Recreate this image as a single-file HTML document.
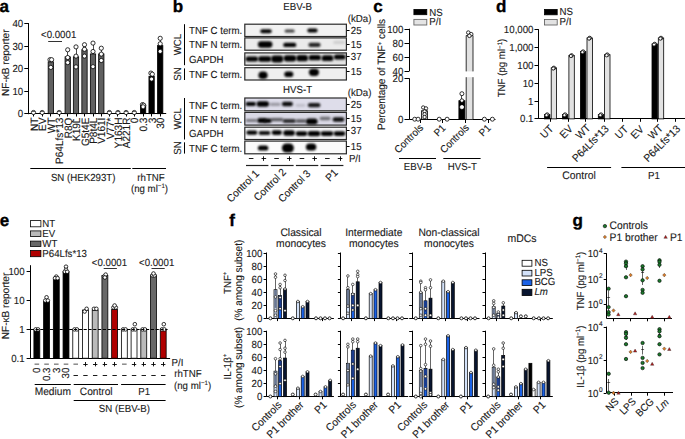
<!DOCTYPE html>
<html><head><meta charset="utf-8"><style>
html,body{margin:0;padding:0;background:#fff;width:685px;height:439px;overflow:hidden}
svg{display:block}
text{font-family:"Liberation Sans",sans-serif;font-size:10.28px;fill:#1a1a1a;text-rendering:geometricPrecision;stroke:#1a1a1a;stroke-width:0.12px}
</style></head><body>
<svg width="685" height="439" viewBox="0 0 685 439">
<defs><filter id="bl" x="-50%" y="-100%" width="200%" height="300%"><feGaussianBlur stdDeviation="0.8"/></filter></defs>
<rect width="685" height="439" fill="#fff"/>
<text transform="translate(-0.60,11.60)" style="font-size:17.00px;font-weight:bold;stroke-width:0.35px;stroke:#000;fill:#000;">a</text>
<line x1="28.50" y1="23.00" x2="28.50" y2="114.20" stroke="#000" stroke-width="1"/>
<line x1="24.30" y1="113.50" x2="28.70" y2="113.50" stroke="#000" stroke-width="1"/>
<text transform="translate(23.20,117.20) scale(0.9434,1)" text-anchor="end">0</text>
<line x1="24.30" y1="91.50" x2="28.70" y2="91.50" stroke="#000" stroke-width="1"/>
<text transform="translate(23.20,94.65) scale(0.9434,1)" text-anchor="end">10</text>
<line x1="24.30" y1="68.50" x2="28.70" y2="68.50" stroke="#000" stroke-width="1"/>
<text transform="translate(23.20,72.10) scale(0.9434,1)" text-anchor="end">20</text>
<line x1="24.30" y1="46.50" x2="28.70" y2="46.50" stroke="#000" stroke-width="1"/>
<text transform="translate(23.20,49.55) scale(0.9434,1)" text-anchor="end">30</text>
<line x1="24.30" y1="23.50" x2="28.70" y2="23.50" stroke="#000" stroke-width="1"/>
<text transform="translate(23.20,27.00) scale(0.9434,1)" text-anchor="end">40</text>
<line x1="28.70" y1="113.50" x2="166.20" y2="113.50" stroke="#000" stroke-width="1"/>
<text transform="translate(9.20,62.70) rotate(-90) scale(0.9434,1)" textLength="70.49" lengthAdjust="spacingAndGlyphs" text-anchor="middle">NF-κB reporter</text>
<line x1="33.50" y1="113.70" x2="33.50" y2="116.50" stroke="#000" stroke-width="1"/>
<circle cx="33.50" cy="112.50" r="2.1" fill="#fff" stroke="#000" stroke-width="0.8"/>
<line x1="32.20" y1="111.50" x2="34.80" y2="111.50" stroke="#000" stroke-width="0.6"/>
<text transform="translate(37.60,117.60) rotate(-90) scale(0.9434,1)" text-anchor="end" style="font-size:10.65px;">NT</text>
<line x1="42.50" y1="113.70" x2="42.50" y2="116.50" stroke="#000" stroke-width="1"/>
<circle cx="42.20" cy="112.50" r="2.1" fill="#fff" stroke="#000" stroke-width="0.8"/>
<line x1="40.90" y1="111.50" x2="43.50" y2="111.50" stroke="#000" stroke-width="0.6"/>
<text transform="translate(46.30,117.60) rotate(-90) scale(0.9434,1)" text-anchor="end" style="font-size:10.65px;">EV</text>
<line x1="50.50" y1="113.70" x2="50.50" y2="116.50" stroke="#000" stroke-width="1"/>
<rect x="48.15" y="61.84" width="5.30" height="51.86" fill="#606060" stroke="#000" stroke-width="0.8"/>
<line x1="50.50" y1="59.70" x2="50.50" y2="61.84" stroke="#000" stroke-width="0.7"/>
<line x1="49.50" y1="59.50" x2="52.10" y2="59.50" stroke="#000" stroke-width="0.7"/>
<circle cx="50.00" cy="59.70" r="2.1" fill="#fff" stroke="#000" stroke-width="0.8"/>
<circle cx="51.60" cy="59.70" r="2.1" fill="#fff" stroke="#000" stroke-width="0.8"/>
<circle cx="50.80" cy="67.40" r="2.1" fill="#fff" stroke="#000" stroke-width="0.8"/>
<text transform="translate(54.90,117.60) rotate(-90) scale(0.9434,1)" text-anchor="end" style="font-size:10.65px;">WT</text>
<line x1="59.50" y1="113.70" x2="59.50" y2="116.50" stroke="#000" stroke-width="1"/>
<circle cx="59.20" cy="112.50" r="2.1" fill="#fff" stroke="#000" stroke-width="0.8"/>
<line x1="57.90" y1="111.50" x2="60.50" y2="111.50" stroke="#000" stroke-width="0.6"/>
<text transform="translate(63.30,117.60) rotate(-90) scale(0.9434,1)" text-anchor="end" style="font-size:10.65px;">P64Lfs*13</text>
<line x1="67.50" y1="113.70" x2="67.50" y2="116.50" stroke="#000" stroke-width="1"/>
<rect x="65.05" y="56.87" width="5.30" height="56.83" fill="#606060" stroke="#000" stroke-width="0.8"/>
<line x1="67.50" y1="49.80" x2="67.50" y2="56.87" stroke="#000" stroke-width="0.7"/>
<line x1="66.40" y1="49.50" x2="69.00" y2="49.50" stroke="#000" stroke-width="0.7"/>
<circle cx="67.70" cy="49.80" r="2.1" fill="#fff" stroke="#000" stroke-width="0.8"/>
<circle cx="67.70" cy="57.50" r="2.1" fill="#fff" stroke="#000" stroke-width="0.8"/>
<circle cx="67.70" cy="62.60" r="2.1" fill="#fff" stroke="#000" stroke-width="0.8"/>
<text transform="translate(71.80,117.60) rotate(-90) scale(0.9434,1)" text-anchor="end" style="font-size:10.65px;">R8Q</text>
<line x1="76.50" y1="113.70" x2="76.50" y2="116.50" stroke="#000" stroke-width="1"/>
<rect x="73.35" y="56.87" width="5.30" height="56.83" fill="#606060" stroke="#000" stroke-width="0.8"/>
<line x1="76.50" y1="46.90" x2="76.50" y2="56.87" stroke="#000" stroke-width="0.7"/>
<line x1="74.70" y1="46.50" x2="77.30" y2="46.50" stroke="#000" stroke-width="0.7"/>
<circle cx="76.00" cy="46.90" r="2.1" fill="#fff" stroke="#000" stroke-width="0.8"/>
<circle cx="76.00" cy="56.10" r="2.1" fill="#fff" stroke="#000" stroke-width="0.8"/>
<circle cx="76.00" cy="66.90" r="2.1" fill="#fff" stroke="#000" stroke-width="0.8"/>
<text transform="translate(80.10,117.60) rotate(-90) scale(0.9434,1)" text-anchor="end" style="font-size:10.65px;">K19L</text>
<line x1="84.50" y1="113.70" x2="84.50" y2="116.50" stroke="#000" stroke-width="1"/>
<rect x="81.85" y="49.66" width="5.30" height="64.04" fill="#606060" stroke="#000" stroke-width="0.8"/>
<line x1="84.50" y1="44.70" x2="84.50" y2="49.66" stroke="#000" stroke-width="0.7"/>
<line x1="83.20" y1="44.50" x2="85.80" y2="44.50" stroke="#000" stroke-width="0.7"/>
<circle cx="84.50" cy="44.70" r="2.1" fill="#fff" stroke="#000" stroke-width="0.8"/>
<circle cx="84.50" cy="49.30" r="2.1" fill="#fff" stroke="#000" stroke-width="0.8"/>
<circle cx="84.50" cy="56.10" r="2.1" fill="#fff" stroke="#000" stroke-width="0.8"/>
<text transform="translate(88.60,117.60) rotate(-90) scale(0.9434,1)" text-anchor="end" style="font-size:10.65px;">G5t4E</text>
<line x1="93.50" y1="113.70" x2="93.50" y2="116.50" stroke="#000" stroke-width="1"/>
<rect x="90.35" y="53.94" width="5.30" height="59.76" fill="#606060" stroke="#000" stroke-width="0.8"/>
<line x1="93.50" y1="43.10" x2="93.50" y2="53.94" stroke="#000" stroke-width="0.7"/>
<line x1="91.70" y1="43.50" x2="94.30" y2="43.50" stroke="#000" stroke-width="0.7"/>
<circle cx="93.00" cy="43.10" r="2.1" fill="#fff" stroke="#000" stroke-width="0.8"/>
<circle cx="93.00" cy="51.50" r="2.1" fill="#fff" stroke="#000" stroke-width="0.8"/>
<circle cx="93.00" cy="66.70" r="2.1" fill="#fff" stroke="#000" stroke-width="0.8"/>
<text transform="translate(97.10,117.60) rotate(-90) scale(0.9434,1)" text-anchor="end" style="font-size:10.65px;">P8t4L</text>
<line x1="101.50" y1="113.70" x2="101.50" y2="116.50" stroke="#000" stroke-width="1"/>
<rect x="98.65" y="53.94" width="5.30" height="59.76" fill="#606060" stroke="#000" stroke-width="0.8"/>
<line x1="101.50" y1="48.20" x2="101.50" y2="53.94" stroke="#000" stroke-width="0.7"/>
<line x1="100.00" y1="48.50" x2="102.60" y2="48.50" stroke="#000" stroke-width="0.7"/>
<circle cx="101.30" cy="48.20" r="2.1" fill="#fff" stroke="#000" stroke-width="0.8"/>
<circle cx="101.30" cy="54.10" r="2.1" fill="#fff" stroke="#000" stroke-width="0.8"/>
<circle cx="101.30" cy="60.50" r="2.1" fill="#fff" stroke="#000" stroke-width="0.8"/>
<text transform="translate(105.40,117.60) rotate(-90) scale(0.9434,1)" text-anchor="end" style="font-size:10.65px;">V161I</text>
<line x1="109.50" y1="113.70" x2="109.50" y2="116.50" stroke="#000" stroke-width="1"/>
<circle cx="109.40" cy="112.50" r="2.1" fill="#fff" stroke="#000" stroke-width="0.8"/>
<line x1="108.10" y1="111.50" x2="110.70" y2="111.50" stroke="#000" stroke-width="0.6"/>
<text transform="translate(113.50,117.60) rotate(-90) scale(0.9434,1)" text-anchor="end" style="font-size:10.65px;">V77*</text>
<line x1="117.50" y1="113.70" x2="117.50" y2="116.50" stroke="#000" stroke-width="1"/>
<circle cx="117.90" cy="112.50" r="2.1" fill="#fff" stroke="#000" stroke-width="0.8"/>
<line x1="116.60" y1="111.50" x2="119.20" y2="111.50" stroke="#000" stroke-width="0.6"/>
<text transform="translate(122.00,117.60) rotate(-90) scale(0.9434,1)" text-anchor="end" style="font-size:10.65px;">Y163H</text>
<line x1="126.50" y1="113.70" x2="126.50" y2="116.50" stroke="#000" stroke-width="1"/>
<circle cx="126.10" cy="112.50" r="2.1" fill="#fff" stroke="#000" stroke-width="0.8"/>
<line x1="124.80" y1="111.50" x2="127.40" y2="111.50" stroke="#000" stroke-width="0.6"/>
<text transform="translate(130.20,117.60) rotate(-90) scale(0.9434,1)" text-anchor="end" style="font-size:10.65px;">A221R</text>
<line x1="134.50" y1="113.70" x2="134.50" y2="116.50" stroke="#000" stroke-width="1"/>
<circle cx="134.30" cy="112.50" r="2.1" fill="#fff" stroke="#000" stroke-width="0.8"/>
<line x1="133.00" y1="111.50" x2="135.60" y2="111.50" stroke="#000" stroke-width="0.6"/>
<text transform="translate(138.40,117.60) rotate(-90) scale(0.9434,1)" text-anchor="end" style="font-size:10.65px;">0</text>
<line x1="143.50" y1="113.70" x2="143.50" y2="116.50" stroke="#000" stroke-width="1"/>
<rect x="140.45" y="105.36" width="5.30" height="8.34" fill="#000" stroke="#000" stroke-width="0.8"/>
<line x1="143.50" y1="104.60" x2="143.50" y2="105.36" stroke="#000" stroke-width="0.7"/>
<line x1="141.80" y1="104.50" x2="144.40" y2="104.50" stroke="#000" stroke-width="0.7"/>
<circle cx="142.50" cy="104.60" r="2.1" fill="#fff" stroke="#000" stroke-width="0.8"/>
<circle cx="143.70" cy="105.20" r="2.1" fill="#fff" stroke="#000" stroke-width="0.8"/>
<circle cx="143.10" cy="106.80" r="2.1" fill="#fff" stroke="#000" stroke-width="0.8"/>
<text transform="translate(147.20,117.60) rotate(-90) scale(0.9434,1)" text-anchor="end" style="font-size:10.65px;">0.3</text>
<line x1="151.50" y1="113.70" x2="151.50" y2="116.50" stroke="#000" stroke-width="1"/>
<rect x="148.95" y="76.27" width="5.30" height="37.43" fill="#000" stroke="#000" stroke-width="0.8"/>
<line x1="151.50" y1="73.10" x2="151.50" y2="76.27" stroke="#000" stroke-width="0.7"/>
<line x1="150.30" y1="73.50" x2="152.90" y2="73.50" stroke="#000" stroke-width="0.7"/>
<circle cx="150.90" cy="73.10" r="2.1" fill="#fff" stroke="#000" stroke-width="0.8"/>
<circle cx="152.30" cy="74.20" r="2.1" fill="#fff" stroke="#000" stroke-width="0.8"/>
<circle cx="151.60" cy="79.10" r="2.1" fill="#fff" stroke="#000" stroke-width="0.8"/>
<text transform="translate(155.70,117.60) rotate(-90) scale(0.9434,1)" text-anchor="end" style="font-size:10.65px;">3</text>
<line x1="160.50" y1="113.70" x2="160.50" y2="116.50" stroke="#000" stroke-width="1"/>
<rect x="157.55" y="45.60" width="5.30" height="68.10" fill="#000" stroke="#000" stroke-width="0.8"/>
<line x1="160.50" y1="38.30" x2="160.50" y2="45.60" stroke="#000" stroke-width="0.7"/>
<line x1="158.90" y1="38.50" x2="161.50" y2="38.50" stroke="#000" stroke-width="0.7"/>
<circle cx="160.20" cy="38.30" r="2.1" fill="#fff" stroke="#000" stroke-width="0.8"/>
<circle cx="160.20" cy="43.80" r="2.1" fill="#fff" stroke="#000" stroke-width="0.8"/>
<circle cx="160.20" cy="51.40" r="2.1" fill="#fff" stroke="#000" stroke-width="0.8"/>
<text transform="translate(164.30,117.60) rotate(-90) scale(0.9434,1)" text-anchor="end" style="font-size:10.65px;">30</text>
<text transform="translate(41.00,38.30) scale(0.9434,1)">&lt;0.0001</text>
<line x1="48.20" y1="41.50" x2="62.00" y2="41.50" stroke="#333" stroke-width="1.0"/>
<line x1="30.30" y1="168.50" x2="130.80" y2="168.50" stroke="#000" stroke-width="1"/>
<line x1="132.30" y1="168.50" x2="166.00" y2="168.50" stroke="#000" stroke-width="1"/>
<text transform="translate(83.20,180.70) scale(0.9434,1)" text-anchor="middle">SN (HEK293T)</text>
<text transform="translate(151.00,180.70) scale(0.9434,1)" text-anchor="middle">rhTNF</text>
<text transform="translate(149.50,191.90) scale(0.9434,1)" text-anchor="middle">(ng ml<tspan dy="-3.5" style="font-size:6.5px">−1</tspan><tspan dy="3.5">)</tspan></text>
<text transform="translate(172.70,11.60)" style="font-size:17.00px;font-weight:bold;stroke-width:0.35px;stroke:#000;fill:#000;">b</text>
<text transform="translate(297.60,10.30) scale(0.9434,1)" text-anchor="middle">EBV-B</text>
<text transform="translate(347.80,21.60) scale(0.9434,1)">(kDa)</text>
<rect x="244.80" y="24.20" width="101.60" height="12.30" fill="#f2f2f2" stroke="#2a2a2a" stroke-width="1.2"/>
<rect x="260.30" y="29.30" width="11.40" height="4.00" rx="2.00" fill="#000" fill-opacity="1" filter="url(#bl)"/>
<rect x="284.60" y="29.40" width="10.10" height="3.00" rx="1.50" fill="#000" fill-opacity="0.75" filter="url(#bl)"/>
<rect x="307.30" y="28.60" width="10.30" height="3.80" rx="1.90" fill="#000" fill-opacity="1" filter="url(#bl)"/>
<text transform="translate(189.00,34.40) scale(0.9434,1)">TNF C term.</text>
<line x1="346.90" y1="30.50" x2="349.60" y2="30.50" stroke="#000" stroke-width="1"/>
<text transform="translate(350.80,33.85) scale(0.9434,1)">25</text>
<rect x="244.80" y="37.90" width="101.60" height="12.30" fill="#ebebeb" stroke="#2a2a2a" stroke-width="1.2"/>
<rect x="257.90" y="41.35" width="14.50" height="6.30" rx="3.15" fill="#000" fill-opacity="1" filter="url(#bl)"/>
<rect x="283.20" y="42.70" width="13.10" height="4.40" rx="2.20" fill="#000" fill-opacity="1" filter="url(#bl)"/>
<rect x="308.40" y="42.75" width="12.20" height="4.30" rx="2.15" fill="#000" fill-opacity="0.85" filter="url(#bl)"/>
<rect x="333.20" y="40.80" width="11.70" height="3.20" rx="1.60" fill="#000" fill-opacity="0.12" filter="url(#bl)"/>
<text transform="translate(189.00,48.10) scale(0.9434,1)">TNF N term.</text>
<line x1="346.90" y1="44.50" x2="349.60" y2="44.50" stroke="#000" stroke-width="1"/>
<text transform="translate(350.80,47.55) scale(0.9434,1)">15</text>
<rect x="244.80" y="52.90" width="101.60" height="12.30" fill="#e2e2e2" stroke="#2a2a2a" stroke-width="1.2"/>
<rect x="245.60" y="56.40" width="12.50" height="5.00" rx="2.50" fill="#000" fill-opacity="1" filter="url(#bl)"/>
<rect x="258.10" y="56.20" width="13.30" height="5.60" rx="2.80" fill="#000" fill-opacity="1" filter="url(#bl)"/>
<rect x="271.10" y="55.60" width="12.30" height="6.80" rx="3.40" fill="#000" fill-opacity="1" filter="url(#bl)"/>
<rect x="283.60" y="55.20" width="12.80" height="6.20" rx="3.10" fill="#000" fill-opacity="1" filter="url(#bl)"/>
<rect x="296.30" y="55.10" width="11.80" height="6.20" rx="3.10" fill="#000" fill-opacity="1" filter="url(#bl)"/>
<rect x="308.60" y="55.10" width="12.40" height="5.20" rx="2.60" fill="#000" fill-opacity="1" filter="url(#bl)"/>
<rect x="321.60" y="55.30" width="11.80" height="5.80" rx="2.90" fill="#000" fill-opacity="1" filter="url(#bl)"/>
<rect x="333.90" y="54.40" width="11.70" height="5.00" rx="2.50" fill="#000" fill-opacity="1" filter="url(#bl)"/>
<text transform="translate(189.00,63.10) scale(0.9434,1)">GAPDH</text>
<line x1="346.90" y1="56.50" x2="349.60" y2="56.50" stroke="#000" stroke-width="1"/>
<text transform="translate(350.80,60.05) scale(0.9434,1)">37</text>
<rect x="244.80" y="67.70" width="101.60" height="12.30" fill="#efefef" stroke="#2a2a2a" stroke-width="1.2"/>
<rect x="258.40" y="71.50" width="9.20" height="7.60" rx="3.80" fill="#000" fill-opacity="1" filter="url(#bl)"/>
<rect x="284.30" y="71.50" width="9.00" height="5.60" rx="2.80" fill="#000" fill-opacity="1" filter="url(#bl)"/>
<rect x="308.90" y="68.65" width="10.10" height="7.30" rx="3.65" fill="#000" fill-opacity="1" filter="url(#bl)"/>
<text transform="translate(189.00,77.90) scale(0.9434,1)">TNF C term.</text>
<line x1="346.90" y1="71.50" x2="349.60" y2="71.50" stroke="#000" stroke-width="1"/>
<text transform="translate(350.80,75.35) scale(0.9434,1)">15</text>
<text transform="translate(297.60,93.30) scale(0.9434,1)" text-anchor="middle">HVS-T</text>
<text transform="translate(347.80,96.00) scale(0.9434,1)">(kDa)</text>
<rect x="244.80" y="98.00" width="101.60" height="12.80" fill="#deddea" stroke="#2a2a2a" stroke-width="1.2"/>
<rect x="245.60" y="102.10" width="10.40" height="3.80" rx="1.90" fill="#000" fill-opacity="1" filter="url(#bl)"/>
<rect x="256.60" y="101.30" width="12.40" height="5.40" rx="2.70" fill="#000" fill-opacity="1" filter="url(#bl)"/>
<rect x="269.60" y="102.70" width="11.00" height="3.20" rx="1.60" fill="#000" fill-opacity="0.3" filter="url(#bl)"/>
<rect x="281.90" y="101.80" width="11.00" height="4.40" rx="2.20" fill="#000" fill-opacity="0.95" filter="url(#bl)"/>
<rect x="295.60" y="103.90" width="9.80" height="2.80" rx="1.40" fill="#000" fill-opacity="0.15" filter="url(#bl)"/>
<rect x="307.90" y="103.05" width="12.50" height="4.30" rx="2.15" fill="#000" fill-opacity="0.9" filter="url(#bl)"/>
<text transform="translate(189.00,108.70) scale(0.9434,1)">TNF C term.</text>
<line x1="346.90" y1="104.50" x2="349.60" y2="104.50" stroke="#000" stroke-width="1"/>
<text transform="translate(350.80,107.90) scale(0.9434,1)">25</text>
<rect x="244.80" y="112.40" width="101.60" height="12.70" fill="#dad9e6" stroke="#2a2a2a" stroke-width="1.2"/>
<rect x="245.60" y="119.10" width="11.80" height="3.00" rx="1.50" fill="#000" fill-opacity="0.45" filter="url(#bl)"/>
<rect x="257.30" y="118.00" width="9.10" height="5.00" rx="2.50" fill="#000" fill-opacity="1" filter="url(#bl)"/>
<rect x="263.60" y="118.60" width="8.10" height="4.40" rx="2.20" fill="#000" fill-opacity="1" filter="url(#bl)"/>
<rect x="270.60" y="117.90" width="12.80" height="3.40" rx="1.70" fill="#000" fill-opacity="0.6" filter="url(#bl)"/>
<rect x="282.60" y="119.00" width="13.30" height="4.00" rx="2.00" fill="#000" fill-opacity="0.8" filter="url(#bl)"/>
<rect x="295.60" y="119.30" width="10.80" height="3.40" rx="1.70" fill="#000" fill-opacity="0.6" filter="url(#bl)"/>
<rect x="305.90" y="118.50" width="11.70" height="6.00" rx="3.00" fill="#000" fill-opacity="1" filter="url(#bl)"/>
<rect x="319.60" y="116.70" width="11.00" height="3.60" rx="1.80" fill="#000" fill-opacity="0.5" filter="url(#bl)"/>
<rect x="332.60" y="117.20" width="11.70" height="4.60" rx="2.30" fill="#000" fill-opacity="0.95" filter="url(#bl)"/>
<text transform="translate(189.00,123.00) scale(0.9434,1)">TNF N term.</text>
<line x1="346.90" y1="118.50" x2="349.60" y2="118.50" stroke="#000" stroke-width="1"/>
<text transform="translate(350.80,122.25) scale(0.9434,1)">15</text>
<rect x="244.80" y="127.20" width="101.60" height="12.30" fill="#f6f6f8" stroke="#2a2a2a" stroke-width="1.2"/>
<rect x="246.30" y="130.40" width="11.10" height="4.40" rx="2.20" fill="#000" fill-opacity="1" filter="url(#bl)"/>
<rect x="258.60" y="131.10" width="11.80" height="3.80" rx="1.90" fill="#000" fill-opacity="0.95" filter="url(#bl)"/>
<rect x="271.60" y="130.20" width="10.40" height="4.80" rx="2.40" fill="#000" fill-opacity="1" filter="url(#bl)"/>
<rect x="283.20" y="130.35" width="11.70" height="5.30" rx="2.65" fill="#000" fill-opacity="1" filter="url(#bl)"/>
<rect x="295.60" y="131.20" width="11.80" height="4.80" rx="2.40" fill="#000" fill-opacity="1" filter="url(#bl)"/>
<rect x="307.60" y="130.95" width="12.80" height="5.30" rx="2.65" fill="#000" fill-opacity="1" filter="url(#bl)"/>
<rect x="320.60" y="131.20" width="12.80" height="4.80" rx="2.40" fill="#000" fill-opacity="1" filter="url(#bl)"/>
<rect x="333.60" y="131.20" width="11.80" height="4.80" rx="2.40" fill="#000" fill-opacity="1" filter="url(#bl)"/>
<text transform="translate(189.00,137.40) scale(0.9434,1)">GAPDH</text>
<line x1="346.90" y1="130.50" x2="349.60" y2="130.50" stroke="#000" stroke-width="1"/>
<text transform="translate(350.80,134.45) scale(0.9434,1)">37</text>
<rect x="244.80" y="141.10" width="101.60" height="12.70" fill="#fbfbfb" stroke="#2a2a2a" stroke-width="1.2"/>
<rect x="257.90" y="145.40" width="10.40" height="5.20" rx="2.60" fill="#000" fill-opacity="1" filter="url(#bl)"/>
<rect x="281.90" y="143.40" width="12.00" height="9.20" rx="4.50" fill="#000" fill-opacity="1" filter="url(#bl)"/>
<rect x="305.90" y="143.40" width="10.40" height="7.20" rx="3.60" fill="#000" fill-opacity="1" filter="url(#bl)"/>
<text transform="translate(189.00,151.70) scale(0.9434,1)">TNF C term.</text>
<line x1="346.90" y1="146.50" x2="349.60" y2="146.50" stroke="#000" stroke-width="1"/>
<text transform="translate(350.80,150.15) scale(0.9434,1)">15</text>
<line x1="184.50" y1="24.20" x2="184.50" y2="65.20" stroke="#000" stroke-width="1"/>
<line x1="184.50" y1="68.40" x2="184.50" y2="80.00" stroke="#000" stroke-width="1"/>
<line x1="184.50" y1="98.00" x2="184.50" y2="139.50" stroke="#000" stroke-width="1"/>
<line x1="184.50" y1="142.30" x2="184.50" y2="153.60" stroke="#000" stroke-width="1"/>
<text transform="translate(181.30,44.60) rotate(-90) scale(0.9434,1)" text-anchor="middle">WCL</text>
<text transform="translate(181.30,74.00) rotate(-90) scale(0.9434,1)" text-anchor="middle">SN</text>
<text transform="translate(181.30,118.80) rotate(-90) scale(0.9434,1)" text-anchor="middle">WCL</text>
<text transform="translate(181.30,148.00) rotate(-90) scale(0.9434,1)" text-anchor="middle">SN</text>
<line x1="248.85" y1="158.50" x2="253.45" y2="158.50" stroke="#000" stroke-width="0.9"/>
<line x1="261.55" y1="158.50" x2="266.15" y2="158.50" stroke="#000" stroke-width="0.9"/>
<line x1="263.50" y1="156.30" x2="263.50" y2="160.90" stroke="#000" stroke-width="0.9"/>
<line x1="274.25" y1="158.50" x2="278.85" y2="158.50" stroke="#000" stroke-width="0.9"/>
<line x1="286.95" y1="158.50" x2="291.55" y2="158.50" stroke="#000" stroke-width="0.9"/>
<line x1="289.50" y1="156.30" x2="289.50" y2="160.90" stroke="#000" stroke-width="0.9"/>
<line x1="299.65" y1="158.50" x2="304.25" y2="158.50" stroke="#000" stroke-width="0.9"/>
<line x1="312.35" y1="158.50" x2="316.95" y2="158.50" stroke="#000" stroke-width="0.9"/>
<line x1="314.50" y1="156.30" x2="314.50" y2="160.90" stroke="#000" stroke-width="0.9"/>
<line x1="325.05" y1="158.50" x2="329.65" y2="158.50" stroke="#000" stroke-width="0.9"/>
<line x1="337.75" y1="158.50" x2="342.35" y2="158.50" stroke="#000" stroke-width="0.9"/>
<line x1="340.50" y1="156.30" x2="340.50" y2="160.90" stroke="#000" stroke-width="0.9"/>
<text transform="translate(348.90,162.10) scale(0.9434,1)">P/I</text>
<line x1="246.00" y1="165.50" x2="268.40" y2="165.50" stroke="#222" stroke-width="1.2"/>
<line x1="270.90" y1="165.50" x2="293.60" y2="165.50" stroke="#222" stroke-width="1.2"/>
<line x1="295.90" y1="165.50" x2="318.30" y2="165.50" stroke="#222" stroke-width="1.2"/>
<line x1="320.60" y1="165.50" x2="343.40" y2="165.50" stroke="#222" stroke-width="1.2"/>
<text transform="translate(259.70,174.20) rotate(-45) scale(0.9434,1)" text-anchor="end" style="font-size:10.60px;">Control 1</text>
<text transform="translate(286.80,172.80) rotate(-45) scale(0.9434,1)" text-anchor="end" style="font-size:10.60px;">Control 2</text>
<text transform="translate(311.10,174.20) rotate(-45) scale(0.9434,1)" text-anchor="end" style="font-size:10.60px;">Control 3</text>
<text transform="translate(338.50,173.30) rotate(-45) scale(0.9434,1)" text-anchor="end" style="font-size:10.60px;">P1</text>
<text transform="translate(373.20,11.60)" style="font-size:17.00px;font-weight:bold;stroke-width:0.35px;stroke:#000;fill:#000;">c</text>
<rect x="413.90" y="9.40" width="12.90" height="5.30" fill="#000" stroke="#000" stroke-width="0.8"/>
<text transform="translate(429.30,15.50) scale(0.9434,1)">NS</text>
<rect x="413.90" y="19.40" width="12.90" height="5.60" fill="#e4e4e4" stroke="#666" stroke-width="0.9"/>
<text transform="translate(429.30,25.30) scale(0.9434,1)">P/I</text>
<line x1="409.50" y1="28.70" x2="409.50" y2="71.30" stroke="#000" stroke-width="1"/>
<line x1="409.50" y1="78.20" x2="409.50" y2="119.20" stroke="#000" stroke-width="1"/>
<line x1="404.50" y1="29.50" x2="409.20" y2="29.50" stroke="#000" stroke-width="1"/>
<text transform="translate(403.30,32.70) scale(0.9434,1)" text-anchor="end">100</text>
<line x1="404.50" y1="43.50" x2="409.20" y2="43.50" stroke="#000" stroke-width="1"/>
<text transform="translate(403.30,46.73) scale(0.9434,1)" text-anchor="end">80</text>
<line x1="404.50" y1="57.50" x2="409.20" y2="57.50" stroke="#000" stroke-width="1"/>
<text transform="translate(403.30,60.77) scale(0.9434,1)" text-anchor="end">60</text>
<line x1="404.50" y1="71.50" x2="409.20" y2="71.50" stroke="#000" stroke-width="1"/>
<text transform="translate(403.30,74.80) scale(0.9434,1)" text-anchor="end">40</text>
<line x1="404.50" y1="78.50" x2="409.20" y2="78.50" stroke="#000" stroke-width="1"/>
<text transform="translate(403.30,81.70) scale(0.9434,1)" text-anchor="end">20</text>
<line x1="404.50" y1="119.50" x2="409.20" y2="119.50" stroke="#000" stroke-width="1"/>
<text transform="translate(403.30,122.70) scale(0.9434,1)" text-anchor="end">0</text>
<line x1="409.20" y1="119.50" x2="495.50" y2="119.50" stroke="#000" stroke-width="1"/>
<line x1="420.50" y1="119.20" x2="420.50" y2="123.00" stroke="#000" stroke-width="1"/>
<line x1="442.50" y1="119.20" x2="442.50" y2="123.00" stroke="#000" stroke-width="1"/>
<line x1="465.50" y1="119.20" x2="465.50" y2="123.00" stroke="#000" stroke-width="1"/>
<line x1="488.50" y1="119.20" x2="488.50" y2="123.00" stroke="#000" stroke-width="1"/>
<text transform="translate(385.20,74.40) rotate(-90) scale(0.9434,1)" text-anchor="middle" style="font-size:10.65px;">Percentage of TNF<tspan dy="-3.5" style="font-size:6.5px">+</tspan><tspan dy="3.5"> cells</tspan></text>
<circle cx="414.70" cy="119.20" r="2.0" fill="#fff" stroke="#000" stroke-width="0.8"/>
<circle cx="418.10" cy="119.20" r="2.0" fill="#fff" stroke="#000" stroke-width="0.8"/>
<rect x="421.50" y="110.80" width="6.00" height="8.40" fill="#e2e2e2" stroke="#000" stroke-width="0.8"/>
<line x1="424.50" y1="107.50" x2="424.50" y2="110.80" stroke="#000" stroke-width="0.7"/>
<circle cx="423.20" cy="107.50" r="1.7" fill="#fff" stroke="#000" stroke-width="0.8"/>
<circle cx="426.00" cy="108.40" r="1.7" fill="#fff" stroke="#000" stroke-width="0.8"/>
<circle cx="424.60" cy="111.40" r="1.7" fill="#fff" stroke="#000" stroke-width="0.8"/>
<circle cx="424.60" cy="114.20" r="1.7" fill="#fff" stroke="#000" stroke-width="0.8"/>
<circle cx="424.60" cy="117.00" r="1.7" fill="#fff" stroke="#000" stroke-width="0.8"/>
<circle cx="439.20" cy="119.20" r="2.0" fill="#fff" stroke="#000" stroke-width="0.8"/>
<circle cx="447.10" cy="119.20" r="2.0" fill="#fff" stroke="#000" stroke-width="0.8"/>
<rect x="458.90" y="100.70" width="6.00" height="18.50" fill="#000" stroke="#000" stroke-width="0.8"/>
<rect x="466.20" y="35.50" width="6.80" height="35.90" fill="#e2e2e2"/>
<rect x="466.20" y="77.20" width="6.80" height="42.00" fill="#e2e2e2"/>
<path d="M466.2,71.4 V35.5 H473.0 V71.4 M466.2,77.2 V119.2 M473.0,77.2 V119.2" fill="none" stroke="#000" stroke-width="0.8"/>
<line x1="461.50" y1="93.70" x2="461.50" y2="100.70" stroke="#000" stroke-width="0.7"/>
<circle cx="461.90" cy="93.70" r="2.0" fill="#fff" stroke="#000" stroke-width="0.8"/>
<circle cx="461.90" cy="100.60" r="1.8" fill="#fff" stroke="#000" stroke-width="0.8"/>
<circle cx="461.90" cy="107.10" r="1.7" fill="#fff" stroke="#fff" stroke-width="0.8"/>
<circle cx="468.30" cy="32.60" r="1.8" fill="#fff" stroke="#000" stroke-width="0.8"/>
<circle cx="471.20" cy="34.20" r="1.8" fill="#fff" stroke="#000" stroke-width="0.8"/>
<circle cx="469.40" cy="35.80" r="1.8" fill="#fff" stroke="#000" stroke-width="0.8"/>
<circle cx="484.40" cy="119.20" r="2.0" fill="#fff" stroke="#000" stroke-width="0.8"/>
<circle cx="492.40" cy="119.20" r="2.0" fill="#fff" stroke="#000" stroke-width="0.8"/>
<text transform="translate(424.00,128.20) rotate(-45) scale(0.9434,1)" text-anchor="end">Controls</text>
<text transform="translate(446.40,128.60) rotate(-45) scale(0.9434,1)" text-anchor="end">P1</text>
<text transform="translate(469.70,128.20) rotate(-45) scale(0.9434,1)" text-anchor="end">Controls</text>
<text transform="translate(491.50,128.60) rotate(-45) scale(0.9434,1)" text-anchor="end">P1</text>
<line x1="399.00" y1="158.50" x2="436.00" y2="158.50" stroke="#000" stroke-width="1"/>
<line x1="443.30" y1="158.50" x2="480.60" y2="158.50" stroke="#000" stroke-width="1"/>
<text transform="translate(418.00,170.10) scale(0.9434,1)" text-anchor="middle">EBV-B</text>
<text transform="translate(462.30,170.10) scale(0.9434,1)" text-anchor="middle">HVS-T</text>
<text transform="translate(495.90,11.60)" style="font-size:17.00px;font-weight:bold;stroke-width:0.35px;stroke:#000;fill:#000;">d</text>
<rect x="544.50" y="9.40" width="12.70" height="5.40" fill="#000" stroke="#000" stroke-width="0.8"/>
<text transform="translate(559.60,15.40) scale(0.9434,1)">NS</text>
<rect x="544.50" y="19.40" width="12.70" height="5.60" fill="#e2e2e2" stroke="#555" stroke-width="0.8"/>
<text transform="translate(559.60,25.40) scale(0.9434,1)">P/I</text>
<line x1="538.50" y1="29.20" x2="538.50" y2="118.90" stroke="#000" stroke-width="1"/>
<line x1="534.50" y1="29.50" x2="538.70" y2="29.50" stroke="#000" stroke-width="1"/>
<text transform="translate(533.50,33.20) scale(0.9434,1)" text-anchor="end">10,000</text>
<line x1="534.50" y1="47.50" x2="538.70" y2="47.50" stroke="#000" stroke-width="1"/>
<text transform="translate(533.50,51.04) scale(0.9434,1)" text-anchor="end">1,000</text>
<line x1="534.50" y1="65.50" x2="538.70" y2="65.50" stroke="#000" stroke-width="1"/>
<text transform="translate(533.50,68.88) scale(0.9434,1)" text-anchor="end">100</text>
<line x1="534.50" y1="83.50" x2="538.70" y2="83.50" stroke="#000" stroke-width="1"/>
<text transform="translate(533.50,86.72) scale(0.9434,1)" text-anchor="end">10</text>
<line x1="534.50" y1="101.50" x2="538.70" y2="101.50" stroke="#000" stroke-width="1"/>
<text transform="translate(533.50,104.56) scale(0.9434,1)" text-anchor="end">1</text>
<line x1="534.50" y1="118.50" x2="538.70" y2="118.50" stroke="#000" stroke-width="1"/>
<text transform="translate(533.50,122.40) scale(0.9434,1)" text-anchor="end">0.1</text>
<line x1="538.70" y1="118.50" x2="685.50" y2="118.50" stroke="#000" stroke-width="1"/>
<text transform="translate(505.00,68.00) rotate(-90) scale(0.9434,1)" text-anchor="middle">TNF (pg ml<tspan dy="-3.5" style="font-size:6.5px">−1</tspan><tspan dy="3.5">)</tspan></text>
<line x1="550.50" y1="118.90" x2="550.50" y2="121.80" stroke="#000" stroke-width="1"/>
<line x1="568.50" y1="118.90" x2="568.50" y2="121.80" stroke="#000" stroke-width="1"/>
<line x1="585.50" y1="118.90" x2="585.50" y2="121.80" stroke="#000" stroke-width="1"/>
<line x1="604.50" y1="118.90" x2="604.50" y2="121.80" stroke="#000" stroke-width="1"/>
<line x1="622.50" y1="118.90" x2="622.50" y2="121.80" stroke="#000" stroke-width="1"/>
<line x1="640.50" y1="118.90" x2="640.50" y2="121.80" stroke="#000" stroke-width="1"/>
<line x1="657.50" y1="118.90" x2="657.50" y2="121.80" stroke="#000" stroke-width="1"/>
<line x1="675.50" y1="118.90" x2="675.50" y2="121.80" stroke="#000" stroke-width="1"/>
<rect x="544.50" y="114.60" width="5.40" height="4.30" fill="#000" stroke="#000" stroke-width="0.8"/>
<circle cx="547.20" cy="114.60" r="1.8" fill="#fff" stroke="#000" stroke-width="0.8"/>
<circle cx="546.50" cy="115.20" r="1.6" fill="#fff" stroke="#000" stroke-width="0.8"/>
<rect x="562.40" y="114.60" width="5.40" height="4.30" fill="#000" stroke="#000" stroke-width="0.8"/>
<circle cx="565.10" cy="114.60" r="1.8" fill="#fff" stroke="#000" stroke-width="0.8"/>
<circle cx="564.40" cy="115.20" r="1.6" fill="#fff" stroke="#000" stroke-width="0.8"/>
<rect x="580.40" y="51.60" width="5.40" height="67.30" fill="#000" stroke="#000" stroke-width="0.8"/>
<circle cx="583.10" cy="51.60" r="1.8" fill="#fff" stroke="#000" stroke-width="0.8"/>
<circle cx="582.40" cy="52.20" r="1.6" fill="#fff" stroke="#000" stroke-width="0.8"/>
<rect x="598.30" y="114.60" width="5.40" height="4.30" fill="#000" stroke="#000" stroke-width="0.8"/>
<circle cx="601.00" cy="114.60" r="1.8" fill="#fff" stroke="#000" stroke-width="0.8"/>
<circle cx="600.30" cy="115.20" r="1.6" fill="#fff" stroke="#000" stroke-width="0.8"/>
<rect x="652.00" y="44.00" width="5.40" height="74.90" fill="#000" stroke="#000" stroke-width="0.8"/>
<circle cx="654.70" cy="44.00" r="1.8" fill="#fff" stroke="#000" stroke-width="0.8"/>
<circle cx="654.00" cy="44.60" r="1.6" fill="#fff" stroke="#000" stroke-width="0.8"/>
<rect x="551.20" y="67.90" width="5.40" height="51.00" fill="#e2e2e2" stroke="#000" stroke-width="0.8"/>
<circle cx="553.90" cy="67.90" r="1.8" fill="#fff" stroke="#000" stroke-width="0.8"/>
<circle cx="553.20" cy="68.50" r="1.6" fill="#fff" stroke="#000" stroke-width="0.8"/>
<rect x="568.90" y="55.40" width="5.40" height="63.50" fill="#e2e2e2" stroke="#000" stroke-width="0.8"/>
<circle cx="571.60" cy="55.40" r="1.8" fill="#fff" stroke="#000" stroke-width="0.8"/>
<circle cx="570.90" cy="56.00" r="1.6" fill="#fff" stroke="#000" stroke-width="0.8"/>
<rect x="587.00" y="38.00" width="5.40" height="80.90" fill="#e2e2e2" stroke="#000" stroke-width="0.8"/>
<circle cx="589.70" cy="38.00" r="1.8" fill="#fff" stroke="#000" stroke-width="0.8"/>
<circle cx="589.00" cy="38.60" r="1.6" fill="#fff" stroke="#000" stroke-width="0.8"/>
<rect x="604.60" y="54.70" width="5.40" height="64.20" fill="#e2e2e2" stroke="#000" stroke-width="0.8"/>
<circle cx="607.30" cy="54.70" r="1.8" fill="#fff" stroke="#000" stroke-width="0.8"/>
<circle cx="606.60" cy="55.30" r="1.6" fill="#fff" stroke="#000" stroke-width="0.8"/>
<rect x="658.30" y="38.00" width="5.40" height="80.90" fill="#e2e2e2" stroke="#000" stroke-width="0.8"/>
<circle cx="661.00" cy="38.00" r="1.8" fill="#fff" stroke="#000" stroke-width="0.8"/>
<circle cx="660.30" cy="38.60" r="1.6" fill="#fff" stroke="#000" stroke-width="0.8"/>
<text transform="translate(554.10,129.50) rotate(-45) scale(0.9434,1)" text-anchor="end" style="font-size:10.71px;">UT</text>
<text transform="translate(573.60,129.50) rotate(-45) scale(0.9434,1)" text-anchor="end" style="font-size:10.71px;">EV</text>
<text transform="translate(591.00,128.70) rotate(-45) scale(0.9434,1)" text-anchor="end" style="font-size:10.71px;">WT</text>
<text transform="translate(609.40,129.50) rotate(-45) scale(0.9434,1)" text-anchor="end" style="font-size:10.71px;">P64Lfs*13</text>
<text transform="translate(628.80,130.00) rotate(-45) scale(0.9434,1)" text-anchor="end" style="font-size:10.71px;">UT</text>
<text transform="translate(644.60,130.00) rotate(-45) scale(0.9434,1)" text-anchor="end" style="font-size:10.71px;">EV</text>
<text transform="translate(663.60,129.00) rotate(-45) scale(0.9434,1)" text-anchor="end" style="font-size:10.71px;">WT</text>
<text transform="translate(681.00,129.50) rotate(-45) scale(0.9434,1)" text-anchor="end" style="font-size:10.71px;">P64Lfs*13</text>
<line x1="547.10" y1="167.50" x2="611.10" y2="167.50" stroke="#000" stroke-width="1"/>
<line x1="621.40" y1="167.50" x2="685.50" y2="167.50" stroke="#000" stroke-width="1"/>
<text transform="translate(579.00,179.20) scale(0.9434,1)" text-anchor="middle" style="font-size:11.02px;">Control</text>
<text transform="translate(653.90,178.70) scale(0.9434,1)" text-anchor="middle">P1</text>
<text transform="translate(-0.30,226.20)" style="font-size:17.00px;font-weight:bold;stroke-width:0.35px;stroke:#000;fill:#000;">e</text>
<rect x="30.50" y="220.60" width="10.40" height="6.20" fill="#fff" stroke="#000" stroke-width="0.8"/>
<text transform="translate(42.30,227.10) scale(0.9434,1)">NT</text>
<rect x="30.50" y="230.90" width="10.40" height="5.70" fill="#bababa" stroke="#000" stroke-width="0.8"/>
<text transform="translate(42.30,236.90) scale(0.9434,1)">EV</text>
<rect x="30.50" y="241.10" width="10.40" height="5.30" fill="#686868" stroke="#000" stroke-width="0.8"/>
<text transform="translate(42.30,246.70) scale(0.9434,1)">WT</text>
<rect x="30.50" y="250.50" width="10.40" height="6.20" fill="#b00000" stroke="#000" stroke-width="0.8"/>
<text transform="translate(42.30,257.00) scale(0.9434,1)">P64Lfs*13</text>
<line x1="30.50" y1="265.20" x2="30.50" y2="358.20" stroke="#000" stroke-width="1"/>
<line x1="26.60" y1="271.50" x2="30.80" y2="271.50" stroke="#000" stroke-width="1"/>
<text transform="translate(24.60,274.50) scale(0.9434,1)" text-anchor="end">100</text>
<line x1="26.60" y1="300.50" x2="30.80" y2="300.50" stroke="#000" stroke-width="1"/>
<text transform="translate(24.60,303.70) scale(0.9434,1)" text-anchor="end">10</text>
<line x1="26.60" y1="329.50" x2="30.80" y2="329.50" stroke="#000" stroke-width="1"/>
<text transform="translate(24.60,332.90) scale(0.9434,1)" text-anchor="end">1</text>
<line x1="26.60" y1="358.50" x2="30.80" y2="358.50" stroke="#000" stroke-width="1"/>
<text transform="translate(24.60,362.10) scale(0.9434,1)" text-anchor="end">0.1</text>
<line x1="30.80" y1="358.50" x2="170.10" y2="358.50" stroke="#000" stroke-width="1"/>
<text transform="translate(9.20,306.00) rotate(-90) scale(0.9434,1)" textLength="70.49" lengthAdjust="spacingAndGlyphs" text-anchor="middle">NF-κB reporter</text>
<rect x="33.90" y="329.40" width="5.90" height="28.80" fill="#000" stroke="#000" stroke-width="0.8"/>
<circle cx="35.65" cy="329.40" r="1.8" fill="#fff" stroke="#000" stroke-width="0.8"/>
<circle cx="38.05" cy="329.40" r="1.8" fill="#fff" stroke="#000" stroke-width="0.8"/>
<rect x="43.62" y="301.54" width="5.90" height="56.66" fill="#000" stroke="#000" stroke-width="0.8"/>
<circle cx="46.57" cy="297.30" r="1.8" fill="#fff" stroke="#000" stroke-width="0.8"/>
<circle cx="45.27" cy="300.60" r="1.8" fill="#fff" stroke="#000" stroke-width="0.8"/>
<circle cx="47.87" cy="300.60" r="1.8" fill="#fff" stroke="#000" stroke-width="0.8"/>
<rect x="53.34" y="279.29" width="5.90" height="78.91" fill="#000" stroke="#000" stroke-width="0.8"/>
<circle cx="56.29" cy="276.60" r="1.8" fill="#fff" stroke="#000" stroke-width="0.8"/>
<circle cx="54.99" cy="278.20" r="1.8" fill="#fff" stroke="#000" stroke-width="0.8"/>
<circle cx="57.59" cy="278.20" r="1.8" fill="#fff" stroke="#000" stroke-width="0.8"/>
<rect x="63.06" y="271.65" width="5.90" height="86.55" fill="#000" stroke="#000" stroke-width="0.8"/>
<circle cx="66.01" cy="266.70" r="1.8" fill="#fff" stroke="#000" stroke-width="0.8"/>
<circle cx="66.01" cy="269.80" r="1.8" fill="#fff" stroke="#000" stroke-width="0.8"/>
<circle cx="64.81" cy="271.80" r="1.8" fill="#fff" stroke="#000" stroke-width="0.8"/>
<circle cx="67.21" cy="271.80" r="1.8" fill="#fff" stroke="#000" stroke-width="0.8"/>
<rect x="72.78" y="329.40" width="5.90" height="28.80" fill="#fff" stroke="#000" stroke-width="0.8"/>
<circle cx="74.53" cy="329.40" r="1.8" fill="#fff" stroke="#000" stroke-width="0.8"/>
<circle cx="76.93" cy="329.40" r="1.8" fill="#fff" stroke="#000" stroke-width="0.8"/>
<rect x="82.50" y="310.05" width="5.90" height="48.15" fill="#fff" stroke="#000" stroke-width="0.8"/>
<circle cx="84.65" cy="311.50" r="1.8" fill="#fff" stroke="#000" stroke-width="0.8"/>
<circle cx="86.65" cy="308.80" r="1.8" fill="#fff" stroke="#000" stroke-width="0.8"/>
<rect x="92.22" y="310.05" width="5.90" height="48.15" fill="#bababa" stroke="#000" stroke-width="0.8"/>
<circle cx="93.97" cy="308.80" r="1.8" fill="#fff" stroke="#000" stroke-width="0.8"/>
<circle cx="96.37" cy="308.80" r="1.8" fill="#fff" stroke="#000" stroke-width="0.8"/>
<rect x="101.94" y="275.52" width="5.90" height="82.68" fill="#686868" stroke="#000" stroke-width="0.8"/>
<circle cx="104.09" cy="276.40" r="1.8" fill="#fff" stroke="#000" stroke-width="0.8"/>
<circle cx="105.69" cy="274.60" r="1.8" fill="#fff" stroke="#000" stroke-width="0.8"/>
<circle cx="104.89" cy="277.50" r="1.8" fill="#fff" stroke="#000" stroke-width="0.8"/>
<rect x="111.66" y="309.51" width="5.90" height="48.69" fill="#b00000" stroke="#000" stroke-width="0.8"/>
<circle cx="113.41" cy="307.50" r="1.8" fill="#fff" stroke="#000" stroke-width="0.8"/>
<circle cx="115.81" cy="307.50" r="1.8" fill="#fff" stroke="#000" stroke-width="0.8"/>
<circle cx="114.61" cy="305.50" r="1.8" fill="#fff" stroke="#000" stroke-width="0.8"/>
<rect x="121.38" y="329.40" width="5.90" height="28.80" fill="#fff" stroke="#000" stroke-width="0.8"/>
<circle cx="123.13" cy="329.40" r="1.8" fill="#fff" stroke="#000" stroke-width="0.8"/>
<circle cx="125.53" cy="329.40" r="1.8" fill="#fff" stroke="#000" stroke-width="0.8"/>
<rect x="131.10" y="329.40" width="5.90" height="28.80" fill="#fff" stroke="#000" stroke-width="0.8"/>
<circle cx="132.85" cy="329.40" r="1.8" fill="#fff" stroke="#000" stroke-width="0.8"/>
<circle cx="135.25" cy="329.40" r="1.8" fill="#fff" stroke="#000" stroke-width="0.8"/>
<circle cx="134.85" cy="324.20" r="1.8" fill="#fff" stroke="#000" stroke-width="0.8"/>
<rect x="140.82" y="329.40" width="5.90" height="28.80" fill="#bababa" stroke="#000" stroke-width="0.8"/>
<circle cx="142.57" cy="329.40" r="1.8" fill="#fff" stroke="#000" stroke-width="0.8"/>
<circle cx="144.97" cy="329.40" r="1.8" fill="#fff" stroke="#000" stroke-width="0.8"/>
<rect x="150.54" y="275.17" width="5.90" height="83.03" fill="#686868" stroke="#000" stroke-width="0.8"/>
<circle cx="152.49" cy="275.40" r="1.8" fill="#fff" stroke="#000" stroke-width="0.8"/>
<circle cx="154.49" cy="275.40" r="1.8" fill="#fff" stroke="#000" stroke-width="0.8"/>
<circle cx="153.49" cy="273.50" r="1.8" fill="#fff" stroke="#000" stroke-width="0.8"/>
<rect x="160.26" y="329.40" width="5.90" height="28.80" fill="#b00000" stroke="#000" stroke-width="0.8"/>
<circle cx="162.01" cy="329.40" r="1.8" fill="#fff" stroke="#000" stroke-width="0.8"/>
<circle cx="164.41" cy="329.40" r="1.8" fill="#fff" stroke="#000" stroke-width="0.8"/>
<circle cx="163.81" cy="324.20" r="1.8" fill="#fff" stroke="#000" stroke-width="0.8"/>
<line x1="30.80" y1="329.50" x2="167.60" y2="329.50" stroke="#000" stroke-width="1.0" stroke-dasharray="3.2,1.6"/>
<text transform="translate(91.80,266.00) scale(0.9434,1)">&lt;0.0001</text>
<line x1="103.70" y1="268.50" x2="116.90" y2="268.50" stroke="#333" stroke-width="1.0"/>
<text transform="translate(139.00,266.00) scale(0.9434,1)">&lt;0.0001</text>
<line x1="151.50" y1="268.50" x2="164.70" y2="268.50" stroke="#333" stroke-width="1.0"/>
<line x1="34.55" y1="364.2" x2="39.15" y2="364.2" stroke="#8a8a8a" stroke-width="1.5"/>
<line x1="44.27" y1="364.2" x2="48.87" y2="364.2" stroke="#8a8a8a" stroke-width="1.5"/>
<line x1="53.99" y1="364.2" x2="58.59" y2="364.2" stroke="#8a8a8a" stroke-width="1.5"/>
<line x1="63.71" y1="364.2" x2="68.31" y2="364.2" stroke="#8a8a8a" stroke-width="1.5"/>
<line x1="73.43" y1="364.2" x2="78.03" y2="364.2" stroke="#8a8a8a" stroke-width="1.5"/>
<line x1="73.53" y1="375.50" x2="77.93" y2="375.50" stroke="#000" stroke-width="0.9"/>
<line x1="83.25" y1="364.50" x2="87.65" y2="364.50" stroke="#000" stroke-width="0.9"/>
<line x1="85.50" y1="362.00" x2="85.50" y2="366.40" stroke="#000" stroke-width="0.9"/>
<line x1="83.25" y1="375.50" x2="87.65" y2="375.50" stroke="#000" stroke-width="0.9"/>
<line x1="92.97" y1="364.50" x2="97.37" y2="364.50" stroke="#000" stroke-width="0.9"/>
<line x1="95.50" y1="362.00" x2="95.50" y2="366.40" stroke="#000" stroke-width="0.9"/>
<line x1="92.97" y1="375.50" x2="97.37" y2="375.50" stroke="#000" stroke-width="0.9"/>
<line x1="102.69" y1="364.50" x2="107.09" y2="364.50" stroke="#000" stroke-width="0.9"/>
<line x1="104.50" y1="362.00" x2="104.50" y2="366.40" stroke="#000" stroke-width="0.9"/>
<line x1="102.69" y1="375.50" x2="107.09" y2="375.50" stroke="#000" stroke-width="0.9"/>
<line x1="112.41" y1="364.50" x2="116.81" y2="364.50" stroke="#000" stroke-width="0.9"/>
<line x1="114.50" y1="362.00" x2="114.50" y2="366.40" stroke="#000" stroke-width="0.9"/>
<line x1="112.41" y1="375.50" x2="116.81" y2="375.50" stroke="#000" stroke-width="0.9"/>
<line x1="122.03" y1="364.2" x2="126.63" y2="364.2" stroke="#8a8a8a" stroke-width="1.5"/>
<line x1="122.13" y1="375.50" x2="126.53" y2="375.50" stroke="#000" stroke-width="0.9"/>
<line x1="131.85" y1="364.50" x2="136.25" y2="364.50" stroke="#000" stroke-width="0.9"/>
<line x1="134.50" y1="362.00" x2="134.50" y2="366.40" stroke="#000" stroke-width="0.9"/>
<line x1="131.85" y1="375.50" x2="136.25" y2="375.50" stroke="#000" stroke-width="0.9"/>
<line x1="141.57" y1="364.50" x2="145.97" y2="364.50" stroke="#000" stroke-width="0.9"/>
<line x1="143.50" y1="362.00" x2="143.50" y2="366.40" stroke="#000" stroke-width="0.9"/>
<line x1="141.57" y1="375.50" x2="145.97" y2="375.50" stroke="#000" stroke-width="0.9"/>
<line x1="151.29" y1="364.50" x2="155.69" y2="364.50" stroke="#000" stroke-width="0.9"/>
<line x1="153.50" y1="362.00" x2="153.50" y2="366.40" stroke="#000" stroke-width="0.9"/>
<line x1="151.29" y1="375.50" x2="155.69" y2="375.50" stroke="#000" stroke-width="0.9"/>
<line x1="161.01" y1="364.50" x2="165.41" y2="364.50" stroke="#000" stroke-width="0.9"/>
<line x1="163.50" y1="362.00" x2="163.50" y2="366.40" stroke="#000" stroke-width="0.9"/>
<line x1="161.01" y1="375.50" x2="165.41" y2="375.50" stroke="#000" stroke-width="0.9"/>
<text transform="translate(171.60,366.10) scale(0.9434,1)">P/I</text>
<text transform="translate(174.20,377.40) scale(0.9434,1)">rhTNF</text>
<text transform="translate(174.00,388.80) scale(0.9434,1)">(ng ml<tspan dy="-3.5" style="font-size:6.5px">−1</tspan><tspan dy="3.5">)</tspan></text>
<text transform="translate(40.25,367.60) rotate(-90) scale(0.9434,1)" text-anchor="end">0</text>
<text transform="translate(49.97,367.60) rotate(-90) scale(0.9434,1)" text-anchor="end">0.3</text>
<text transform="translate(59.69,367.60) rotate(-90) scale(0.9434,1)" text-anchor="end">3</text>
<text transform="translate(69.41,367.60) rotate(-90) scale(0.9434,1)" text-anchor="end">30</text>
<line x1="34.70" y1="384.50" x2="70.80" y2="384.50" stroke="#000" stroke-width="1"/>
<line x1="73.70" y1="384.50" x2="118.00" y2="384.50" stroke="#000" stroke-width="1"/>
<line x1="121.10" y1="384.50" x2="165.60" y2="384.50" stroke="#000" stroke-width="1"/>
<text transform="translate(52.80,394.70) scale(0.9434,1)" text-anchor="middle" style="font-size:10.81px;">Medium</text>
<text transform="translate(96.20,394.70) scale(0.9434,1)" text-anchor="middle" style="font-size:10.81px;">Control</text>
<text transform="translate(144.30,394.70) scale(0.9434,1)" text-anchor="middle">P1</text>
<line x1="73.70" y1="400.50" x2="165.60" y2="400.50" stroke="#000" stroke-width="1"/>
<text transform="translate(124.40,412.00) scale(0.9434,1)" text-anchor="middle">SN (EBV-B)</text>
<text transform="translate(229.30,226.00)" style="font-size:17.00px;font-weight:bold;stroke-width:0.35px;stroke:#000;fill:#000;">f</text>
<text transform="translate(301.00,235.60) scale(0.9434,1)" text-anchor="middle" style="font-size:10.92px;">Classical</text>
<text transform="translate(301.00,247.20) scale(0.9434,1)" text-anchor="middle" style="font-size:10.92px;">monocytes</text>
<text transform="translate(373.80,235.60) scale(0.9434,1)" text-anchor="middle" style="font-size:10.92px;">Intermediate</text>
<text transform="translate(373.80,247.20) scale(0.9434,1)" text-anchor="middle" style="font-size:10.92px;">monocytes</text>
<text transform="translate(449.00,235.60) scale(0.9434,1)" text-anchor="middle" style="font-size:10.92px;">Non-classical</text>
<text transform="translate(449.00,247.20) scale(0.9434,1)" text-anchor="middle" style="font-size:10.92px;">monocytes</text>
<text transform="translate(522.00,241.70) scale(0.9434,1)" text-anchor="middle" style="font-size:11.13px;">mDCs</text>
<rect x="522.10" y="260.30" width="9.80" height="5.90" fill="#ffffff" stroke="#000" stroke-width="0.8"/>
<text transform="translate(534.40,266.00) scale(0.9434,1)">NS</text>
<rect x="522.10" y="270.30" width="9.80" height="5.70" fill="#d3e2fa" stroke="#000" stroke-width="0.8"/>
<text transform="translate(534.40,275.80) scale(0.9434,1)">LPS</text>
<rect x="522.10" y="279.80" width="9.80" height="5.70" fill="#1b62e6" stroke="#000" stroke-width="0.8"/>
<text transform="translate(534.40,285.30) scale(0.9434,1)">BCG</text>
<rect x="522.10" y="289.30" width="9.80" height="6.30" fill="#081530" stroke="#000" stroke-width="0.8"/>
<text transform="translate(534.40,295.40) scale(0.9434,1)" style="font-style:italic;">Lm</text>
<line x1="266.50" y1="252.50" x2="266.50" y2="318.50" stroke="#000" stroke-width="1"/>
<line x1="263.60" y1="318.50" x2="266.40" y2="318.50" stroke="#000" stroke-width="1"/>
<text transform="translate(262.40,322.00) scale(0.9434,1)" text-anchor="end">0</text>
<line x1="263.60" y1="305.50" x2="266.40" y2="305.50" stroke="#000" stroke-width="1"/>
<text transform="translate(262.40,308.90) scale(0.9434,1)" text-anchor="end">20</text>
<line x1="263.60" y1="292.50" x2="266.40" y2="292.50" stroke="#000" stroke-width="1"/>
<text transform="translate(262.40,295.80) scale(0.9434,1)" text-anchor="end">40</text>
<line x1="263.60" y1="279.50" x2="266.40" y2="279.50" stroke="#000" stroke-width="1"/>
<text transform="translate(262.40,282.70) scale(0.9434,1)" text-anchor="end">60</text>
<line x1="263.60" y1="266.50" x2="266.40" y2="266.50" stroke="#000" stroke-width="1"/>
<text transform="translate(262.40,269.60) scale(0.9434,1)" text-anchor="end">80</text>
<line x1="263.60" y1="253.50" x2="266.40" y2="253.50" stroke="#000" stroke-width="1"/>
<text transform="translate(262.40,256.50) scale(0.9434,1)" text-anchor="end">100</text>
<line x1="266.40" y1="318.50" x2="333.90" y2="318.50" stroke="#000" stroke-width="1"/>
<line x1="277.50" y1="318.50" x2="277.50" y2="321.10" stroke="#000" stroke-width="1"/>
<circle cx="270.40" cy="318.30" r="1.5" fill="#fff" stroke="#000" stroke-width="0.8"/>
<rect x="274.00" y="289.68" width="3.00" height="28.82" fill="#d3e2fa" stroke="#000" stroke-width="0.7"/>
<rect x="274.35" y="290.03" width="2.30" height="17.87" fill="#6a7892"/>
<line x1="275.50" y1="273.96" x2="275.50" y2="289.68" stroke="#000" stroke-width="0.6"/>
<circle cx="275.50" cy="273.96" r="1.3" fill="#fff" stroke="#000" stroke-width="0.6"/>
<circle cx="275.50" cy="277.24" r="1.3" fill="#fff" stroke="#000" stroke-width="0.6"/>
<circle cx="275.50" cy="296.88" r="1.3" fill="#fff" stroke="#000" stroke-width="0.6"/>
<circle cx="275.50" cy="310.64" r="1.3" fill="#fff" stroke="#000" stroke-width="0.6"/>
<circle cx="275.50" cy="315.23" r="1.3" fill="#fff" stroke="#000" stroke-width="0.6"/>
<rect x="278.60" y="295.57" width="3.00" height="22.93" fill="#1b62e6" stroke="#000" stroke-width="0.7"/>
<rect x="278.95" y="295.93" width="2.30" height="14.21" fill="#1c3c8c"/>
<line x1="280.50" y1="284.44" x2="280.50" y2="295.57" stroke="#000" stroke-width="0.6"/>
<circle cx="280.10" cy="284.44" r="1.3" fill="#fff" stroke="#000" stroke-width="0.6"/>
<circle cx="280.10" cy="287.71" r="1.3" fill="#fff" stroke="#000" stroke-width="0.6"/>
<circle cx="280.10" cy="297.54" r="1.3" fill="#fff" stroke="#000" stroke-width="0.6"/>
<circle cx="280.10" cy="308.68" r="1.3" fill="#fff" stroke="#000" stroke-width="0.6"/>
<rect x="283.50" y="289.02" width="3.00" height="29.48" fill="#081530" stroke="#000" stroke-width="0.7"/>
<line x1="285.50" y1="275.27" x2="285.50" y2="289.02" stroke="#000" stroke-width="0.6"/>
<circle cx="285.00" cy="275.27" r="1.3" fill="#fff" stroke="#000" stroke-width="0.6"/>
<circle cx="285.00" cy="280.51" r="1.3" fill="#fff" stroke="#000" stroke-width="0.6"/>
<circle cx="285.00" cy="289.02" r="1.3" fill="#fff" stroke="#000" stroke-width="0.6"/>
<circle cx="285.00" cy="310.64" r="1.3" fill="#fff" stroke="#000" stroke-width="0.6"/>
<line x1="299.50" y1="318.50" x2="299.50" y2="321.10" stroke="#000" stroke-width="1"/>
<circle cx="292.80" cy="318.30" r="1.5" fill="#fff" stroke="#000" stroke-width="0.8"/>
<rect x="296.40" y="301.47" width="3.00" height="17.03" fill="#d3e2fa" stroke="#000" stroke-width="0.7"/>
<circle cx="297.90" cy="301.47" r="1.3" fill="#fff" stroke="#000" stroke-width="0.6"/>
<rect x="301.20" y="306.71" width="3.00" height="11.79" fill="#1b62e6" stroke="#000" stroke-width="0.7"/>
<circle cx="302.70" cy="306.71" r="1.3" fill="#fff" stroke="#000" stroke-width="0.6"/>
<rect x="306.00" y="301.47" width="3.00" height="17.03" fill="#081530" stroke="#000" stroke-width="0.7"/>
<circle cx="307.50" cy="301.47" r="1.3" fill="#fff" stroke="#000" stroke-width="0.6"/>
<line x1="322.50" y1="318.50" x2="322.50" y2="321.10" stroke="#000" stroke-width="1"/>
<circle cx="316.00" cy="318.30" r="1.5" fill="#fff" stroke="#000" stroke-width="0.8"/>
<circle cx="320.50" cy="318.30" r="1.5" fill="#fff" stroke="#000" stroke-width="0.8"/>
<circle cx="325.00" cy="318.30" r="1.5" fill="#fff" stroke="#000" stroke-width="0.8"/>
<circle cx="329.60" cy="318.30" r="1.5" fill="#fff" stroke="#000" stroke-width="0.8"/>
<line x1="266.50" y1="330.70" x2="266.50" y2="396.70" stroke="#000" stroke-width="1"/>
<line x1="263.60" y1="396.50" x2="266.40" y2="396.50" stroke="#000" stroke-width="1"/>
<text transform="translate(262.40,400.20) scale(0.9434,1)" text-anchor="end">0</text>
<line x1="263.60" y1="383.50" x2="266.40" y2="383.50" stroke="#000" stroke-width="1"/>
<text transform="translate(262.40,387.10) scale(0.9434,1)" text-anchor="end">20</text>
<line x1="263.60" y1="370.50" x2="266.40" y2="370.50" stroke="#000" stroke-width="1"/>
<text transform="translate(262.40,374.00) scale(0.9434,1)" text-anchor="end">40</text>
<line x1="263.60" y1="357.50" x2="266.40" y2="357.50" stroke="#000" stroke-width="1"/>
<text transform="translate(262.40,360.90) scale(0.9434,1)" text-anchor="end">60</text>
<line x1="263.60" y1="344.50" x2="266.40" y2="344.50" stroke="#000" stroke-width="1"/>
<text transform="translate(262.40,347.80) scale(0.9434,1)" text-anchor="end">80</text>
<line x1="263.60" y1="331.50" x2="266.40" y2="331.50" stroke="#000" stroke-width="1"/>
<text transform="translate(262.40,334.70) scale(0.9434,1)" text-anchor="end">100</text>
<line x1="266.40" y1="396.50" x2="333.90" y2="396.50" stroke="#000" stroke-width="1"/>
<line x1="277.50" y1="396.70" x2="277.50" y2="399.30" stroke="#000" stroke-width="1"/>
<circle cx="270.40" cy="396.50" r="1.5" fill="#fff" stroke="#000" stroke-width="0.8"/>
<rect x="274.00" y="371.15" width="3.00" height="25.55" fill="#d3e2fa" stroke="#000" stroke-width="0.7"/>
<rect x="274.35" y="371.50" width="2.30" height="15.84" fill="#6a7892"/>
<line x1="275.50" y1="358.71" x2="275.50" y2="371.15" stroke="#000" stroke-width="0.6"/>
<circle cx="275.50" cy="358.71" r="1.3" fill="#fff" stroke="#000" stroke-width="0.6"/>
<circle cx="275.50" cy="373.77" r="1.3" fill="#fff" stroke="#000" stroke-width="0.6"/>
<circle cx="275.50" cy="386.22" r="1.3" fill="#fff" stroke="#000" stroke-width="0.6"/>
<circle cx="275.50" cy="391.46" r="1.3" fill="#fff" stroke="#000" stroke-width="0.6"/>
<rect x="278.60" y="360.68" width="3.00" height="36.02" fill="#1b62e6" stroke="#000" stroke-width="0.7"/>
<rect x="278.95" y="361.03" width="2.30" height="22.34" fill="#1c3c8c"/>
<line x1="280.50" y1="342.99" x2="280.50" y2="360.68" stroke="#000" stroke-width="0.6"/>
<circle cx="280.10" cy="342.99" r="1.3" fill="#fff" stroke="#000" stroke-width="0.6"/>
<circle cx="280.10" cy="349.54" r="1.3" fill="#fff" stroke="#000" stroke-width="0.6"/>
<circle cx="280.10" cy="358.71" r="1.3" fill="#fff" stroke="#000" stroke-width="0.6"/>
<circle cx="280.10" cy="366.57" r="1.3" fill="#fff" stroke="#000" stroke-width="0.6"/>
<circle cx="280.10" cy="383.60" r="1.3" fill="#fff" stroke="#000" stroke-width="0.6"/>
<rect x="283.50" y="358.06" width="3.00" height="38.64" fill="#081530" stroke="#000" stroke-width="0.7"/>
<line x1="285.50" y1="340.37" x2="285.50" y2="358.06" stroke="#000" stroke-width="0.6"/>
<circle cx="285.00" cy="340.37" r="1.3" fill="#fff" stroke="#000" stroke-width="0.6"/>
<circle cx="285.00" cy="348.23" r="1.3" fill="#fff" stroke="#000" stroke-width="0.6"/>
<circle cx="285.00" cy="352.16" r="1.3" fill="#fff" stroke="#000" stroke-width="0.6"/>
<circle cx="285.00" cy="380.32" r="1.3" fill="#fff" stroke="#000" stroke-width="0.6"/>
<line x1="299.50" y1="396.70" x2="299.50" y2="399.30" stroke="#000" stroke-width="1"/>
<circle cx="292.80" cy="394.54" r="1.5" fill="#fff" stroke="#000" stroke-width="0.8"/>
<rect x="296.40" y="388.19" width="3.00" height="8.51" fill="#d3e2fa" stroke="#000" stroke-width="0.7"/>
<circle cx="297.90" cy="388.19" r="1.3" fill="#fff" stroke="#000" stroke-width="0.6"/>
<rect x="301.20" y="376.39" width="3.00" height="20.31" fill="#1b62e6" stroke="#000" stroke-width="0.7"/>
<circle cx="302.70" cy="376.39" r="1.3" fill="#fff" stroke="#000" stroke-width="0.6"/>
<rect x="306.00" y="371.81" width="3.00" height="24.89" fill="#081530" stroke="#000" stroke-width="0.7"/>
<circle cx="307.50" cy="371.81" r="1.3" fill="#fff" stroke="#000" stroke-width="0.6"/>
<line x1="322.50" y1="396.70" x2="322.50" y2="399.30" stroke="#000" stroke-width="1"/>
<circle cx="315.60" cy="394.54" r="1.5" fill="#fff" stroke="#000" stroke-width="0.8"/>
<rect x="319.00" y="391.46" width="3.00" height="5.24" fill="#d3e2fa" stroke="#000" stroke-width="0.7"/>
<circle cx="320.50" cy="391.46" r="1.3" fill="#fff" stroke="#000" stroke-width="0.6"/>
<rect x="324.00" y="386.88" width="3.00" height="9.82" fill="#1b62e6" stroke="#000" stroke-width="0.7"/>
<circle cx="325.50" cy="386.88" r="1.3" fill="#fff" stroke="#000" stroke-width="0.6"/>
<rect x="328.70" y="380.32" width="3.00" height="16.38" fill="#081530" stroke="#000" stroke-width="0.7"/>
<circle cx="330.20" cy="380.32" r="1.3" fill="#fff" stroke="#000" stroke-width="0.6"/>
<line x1="340.50" y1="252.50" x2="340.50" y2="318.50" stroke="#000" stroke-width="1"/>
<line x1="337.90" y1="318.50" x2="340.70" y2="318.50" stroke="#000" stroke-width="1"/>
<line x1="337.90" y1="305.50" x2="340.70" y2="305.50" stroke="#000" stroke-width="1"/>
<line x1="337.90" y1="292.50" x2="340.70" y2="292.50" stroke="#000" stroke-width="1"/>
<line x1="337.90" y1="279.50" x2="340.70" y2="279.50" stroke="#000" stroke-width="1"/>
<line x1="337.90" y1="266.50" x2="340.70" y2="266.50" stroke="#000" stroke-width="1"/>
<line x1="337.90" y1="253.50" x2="340.70" y2="253.50" stroke="#000" stroke-width="1"/>
<line x1="340.70" y1="318.50" x2="408.20" y2="318.50" stroke="#000" stroke-width="1"/>
<line x1="351.50" y1="318.50" x2="351.50" y2="321.10" stroke="#000" stroke-width="1"/>
<circle cx="343.10" cy="318.30" r="1.5" fill="#fff" stroke="#000" stroke-width="0.8"/>
<rect x="346.40" y="289.68" width="3.00" height="28.82" fill="#d3e2fa" stroke="#000" stroke-width="0.7"/>
<rect x="346.75" y="290.03" width="2.30" height="17.87" fill="#6a7892"/>
<line x1="347.50" y1="275.93" x2="347.50" y2="289.68" stroke="#000" stroke-width="0.6"/>
<circle cx="347.90" cy="275.93" r="1.3" fill="#fff" stroke="#000" stroke-width="0.6"/>
<circle cx="347.90" cy="287.71" r="1.3" fill="#fff" stroke="#000" stroke-width="0.6"/>
<circle cx="347.90" cy="306.06" r="1.3" fill="#fff" stroke="#000" stroke-width="0.6"/>
<circle cx="347.90" cy="313.26" r="1.3" fill="#fff" stroke="#000" stroke-width="0.6"/>
<rect x="351.30" y="293.61" width="3.00" height="24.89" fill="#1b62e6" stroke="#000" stroke-width="0.7"/>
<rect x="351.65" y="293.96" width="2.30" height="15.43" fill="#1c3c8c"/>
<line x1="352.50" y1="284.44" x2="352.50" y2="293.61" stroke="#000" stroke-width="0.6"/>
<circle cx="352.80" cy="284.44" r="1.3" fill="#fff" stroke="#000" stroke-width="0.6"/>
<circle cx="352.80" cy="294.26" r="1.3" fill="#fff" stroke="#000" stroke-width="0.6"/>
<circle cx="352.80" cy="305.40" r="1.3" fill="#fff" stroke="#000" stroke-width="0.6"/>
<circle cx="352.80" cy="309.99" r="1.3" fill="#fff" stroke="#000" stroke-width="0.6"/>
<rect x="356.20" y="281.82" width="3.00" height="36.68" fill="#081530" stroke="#000" stroke-width="0.7"/>
<line x1="357.50" y1="271.34" x2="357.50" y2="281.82" stroke="#000" stroke-width="0.6"/>
<circle cx="357.70" cy="271.34" r="1.3" fill="#fff" stroke="#000" stroke-width="0.6"/>
<circle cx="357.70" cy="274.62" r="1.3" fill="#fff" stroke="#000" stroke-width="0.6"/>
<circle cx="357.70" cy="276.58" r="1.3" fill="#fff" stroke="#000" stroke-width="0.6"/>
<circle cx="357.70" cy="305.40" r="1.3" fill="#fff" stroke="#000" stroke-width="0.6"/>
<line x1="374.50" y1="318.50" x2="374.50" y2="321.10" stroke="#000" stroke-width="1"/>
<circle cx="365.90" cy="318.30" r="1.5" fill="#fff" stroke="#000" stroke-width="0.8"/>
<rect x="369.20" y="293.61" width="3.00" height="24.89" fill="#d3e2fa" stroke="#000" stroke-width="0.7"/>
<circle cx="370.70" cy="293.61" r="1.3" fill="#fff" stroke="#000" stroke-width="0.6"/>
<rect x="374.00" y="289.68" width="3.00" height="28.82" fill="#1b62e6" stroke="#000" stroke-width="0.7"/>
<circle cx="375.50" cy="289.68" r="1.3" fill="#fff" stroke="#000" stroke-width="0.6"/>
<rect x="379.00" y="282.48" width="3.00" height="36.02" fill="#081530" stroke="#000" stroke-width="0.7"/>
<circle cx="380.50" cy="282.48" r="1.3" fill="#fff" stroke="#000" stroke-width="0.6"/>
<line x1="396.50" y1="318.50" x2="396.50" y2="321.10" stroke="#000" stroke-width="1"/>
<circle cx="388.30" cy="318.30" r="1.5" fill="#fff" stroke="#000" stroke-width="0.8"/>
<circle cx="393.00" cy="318.30" r="1.5" fill="#fff" stroke="#000" stroke-width="0.8"/>
<circle cx="397.50" cy="318.30" r="1.5" fill="#fff" stroke="#000" stroke-width="0.8"/>
<circle cx="402.00" cy="318.30" r="1.5" fill="#fff" stroke="#000" stroke-width="0.8"/>
<line x1="340.50" y1="330.70" x2="340.50" y2="396.70" stroke="#000" stroke-width="1"/>
<line x1="337.90" y1="396.50" x2="340.70" y2="396.50" stroke="#000" stroke-width="1"/>
<line x1="337.90" y1="383.50" x2="340.70" y2="383.50" stroke="#000" stroke-width="1"/>
<line x1="337.90" y1="370.50" x2="340.70" y2="370.50" stroke="#000" stroke-width="1"/>
<line x1="337.90" y1="357.50" x2="340.70" y2="357.50" stroke="#000" stroke-width="1"/>
<line x1="337.90" y1="344.50" x2="340.70" y2="344.50" stroke="#000" stroke-width="1"/>
<line x1="337.90" y1="331.50" x2="340.70" y2="331.50" stroke="#000" stroke-width="1"/>
<line x1="340.70" y1="396.50" x2="408.20" y2="396.50" stroke="#000" stroke-width="1"/>
<line x1="351.50" y1="396.70" x2="351.50" y2="399.30" stroke="#000" stroke-width="1"/>
<circle cx="343.10" cy="394.54" r="1.5" fill="#fff" stroke="#000" stroke-width="0.8"/>
<rect x="346.40" y="363.29" width="3.00" height="33.41" fill="#d3e2fa" stroke="#000" stroke-width="0.7"/>
<rect x="346.75" y="363.64" width="2.30" height="20.71" fill="#6a7892"/>
<line x1="347.50" y1="344.30" x2="347.50" y2="363.29" stroke="#000" stroke-width="0.6"/>
<circle cx="347.90" cy="344.30" r="1.3" fill="#fff" stroke="#000" stroke-width="0.6"/>
<circle cx="347.90" cy="346.92" r="1.3" fill="#fff" stroke="#000" stroke-width="0.6"/>
<circle cx="347.90" cy="370.50" r="1.3" fill="#fff" stroke="#000" stroke-width="0.6"/>
<circle cx="347.90" cy="384.91" r="1.3" fill="#fff" stroke="#000" stroke-width="0.6"/>
<rect x="351.30" y="350.19" width="3.00" height="46.50" fill="#1b62e6" stroke="#000" stroke-width="0.7"/>
<rect x="351.65" y="350.55" width="2.30" height="28.83" fill="#1c3c8c"/>
<line x1="352.50" y1="339.06" x2="352.50" y2="350.19" stroke="#000" stroke-width="0.6"/>
<circle cx="352.80" cy="339.06" r="1.3" fill="#fff" stroke="#000" stroke-width="0.6"/>
<circle cx="352.80" cy="341.68" r="1.3" fill="#fff" stroke="#000" stroke-width="0.6"/>
<circle cx="352.80" cy="363.95" r="1.3" fill="#fff" stroke="#000" stroke-width="0.6"/>
<circle cx="352.80" cy="378.36" r="1.3" fill="#fff" stroke="#000" stroke-width="0.6"/>
<rect x="356.20" y="348.23" width="3.00" height="48.47" fill="#081530" stroke="#000" stroke-width="0.7"/>
<line x1="357.50" y1="339.06" x2="357.50" y2="348.23" stroke="#000" stroke-width="0.6"/>
<circle cx="357.70" cy="339.06" r="1.3" fill="#fff" stroke="#000" stroke-width="0.6"/>
<circle cx="357.70" cy="341.68" r="1.3" fill="#fff" stroke="#000" stroke-width="0.6"/>
<circle cx="357.70" cy="369.19" r="1.3" fill="#fff" stroke="#000" stroke-width="0.6"/>
<line x1="374.50" y1="396.70" x2="374.50" y2="399.30" stroke="#000" stroke-width="1"/>
<circle cx="365.90" cy="394.54" r="1.5" fill="#fff" stroke="#000" stroke-width="0.8"/>
<rect x="369.20" y="356.09" width="3.00" height="40.61" fill="#d3e2fa" stroke="#000" stroke-width="0.7"/>
<circle cx="370.70" cy="356.09" r="1.3" fill="#fff" stroke="#000" stroke-width="0.6"/>
<rect x="374.00" y="342.99" width="3.00" height="53.71" fill="#1b62e6" stroke="#000" stroke-width="0.7"/>
<circle cx="375.50" cy="342.99" r="1.3" fill="#fff" stroke="#000" stroke-width="0.6"/>
<rect x="379.00" y="345.61" width="3.00" height="51.09" fill="#081530" stroke="#000" stroke-width="0.7"/>
<circle cx="380.50" cy="345.61" r="1.3" fill="#fff" stroke="#000" stroke-width="0.6"/>
<line x1="396.50" y1="396.70" x2="396.50" y2="399.30" stroke="#000" stroke-width="1"/>
<circle cx="388.10" cy="394.54" r="1.5" fill="#fff" stroke="#000" stroke-width="0.8"/>
<rect x="391.40" y="365.91" width="3.00" height="30.79" fill="#d3e2fa" stroke="#000" stroke-width="0.7"/>
<circle cx="392.90" cy="365.91" r="1.3" fill="#fff" stroke="#000" stroke-width="0.6"/>
<rect x="396.30" y="356.75" width="3.00" height="39.95" fill="#1b62e6" stroke="#000" stroke-width="0.7"/>
<circle cx="397.80" cy="356.75" r="1.3" fill="#fff" stroke="#000" stroke-width="0.6"/>
<rect x="401.00" y="344.95" width="3.00" height="51.75" fill="#081530" stroke="#000" stroke-width="0.7"/>
<circle cx="402.50" cy="344.95" r="1.3" fill="#fff" stroke="#000" stroke-width="0.6"/>
<line x1="412.50" y1="252.50" x2="412.50" y2="318.50" stroke="#000" stroke-width="1"/>
<line x1="409.20" y1="318.50" x2="412.00" y2="318.50" stroke="#000" stroke-width="1"/>
<line x1="409.20" y1="305.50" x2="412.00" y2="305.50" stroke="#000" stroke-width="1"/>
<line x1="409.20" y1="292.50" x2="412.00" y2="292.50" stroke="#000" stroke-width="1"/>
<line x1="409.20" y1="279.50" x2="412.00" y2="279.50" stroke="#000" stroke-width="1"/>
<line x1="409.20" y1="266.50" x2="412.00" y2="266.50" stroke="#000" stroke-width="1"/>
<line x1="409.20" y1="253.50" x2="412.00" y2="253.50" stroke="#000" stroke-width="1"/>
<line x1="412.00" y1="318.50" x2="479.50" y2="318.50" stroke="#000" stroke-width="1"/>
<line x1="422.50" y1="318.50" x2="422.50" y2="321.10" stroke="#000" stroke-width="1"/>
<circle cx="415.80" cy="318.30" r="1.5" fill="#fff" stroke="#000" stroke-width="0.8"/>
<rect x="419.30" y="292.30" width="3.00" height="26.20" fill="#d3e2fa" stroke="#000" stroke-width="0.7"/>
<rect x="419.65" y="292.65" width="2.30" height="16.24" fill="#6a7892"/>
<line x1="420.50" y1="281.17" x2="420.50" y2="292.30" stroke="#000" stroke-width="0.6"/>
<circle cx="420.80" cy="281.17" r="1.3" fill="#fff" stroke="#000" stroke-width="0.6"/>
<circle cx="420.80" cy="282.48" r="1.3" fill="#fff" stroke="#000" stroke-width="0.6"/>
<circle cx="420.80" cy="292.30" r="1.3" fill="#fff" stroke="#000" stroke-width="0.6"/>
<circle cx="420.80" cy="308.68" r="1.3" fill="#fff" stroke="#000" stroke-width="0.6"/>
<circle cx="420.80" cy="315.23" r="1.3" fill="#fff" stroke="#000" stroke-width="0.6"/>
<rect x="424.00" y="300.81" width="3.00" height="17.69" fill="#1b62e6" stroke="#000" stroke-width="0.7"/>
<rect x="424.35" y="301.17" width="2.30" height="10.96" fill="#1c3c8c"/>
<line x1="425.50" y1="287.71" x2="425.50" y2="300.81" stroke="#000" stroke-width="0.6"/>
<circle cx="425.50" cy="287.71" r="1.3" fill="#fff" stroke="#000" stroke-width="0.6"/>
<circle cx="425.50" cy="289.68" r="1.3" fill="#fff" stroke="#000" stroke-width="0.6"/>
<circle cx="425.50" cy="308.68" r="1.3" fill="#fff" stroke="#000" stroke-width="0.6"/>
<circle cx="425.50" cy="315.23" r="1.3" fill="#fff" stroke="#000" stroke-width="0.6"/>
<rect x="429.00" y="298.19" width="3.00" height="20.31" fill="#081530" stroke="#000" stroke-width="0.7"/>
<line x1="430.50" y1="279.86" x2="430.50" y2="298.19" stroke="#000" stroke-width="0.6"/>
<circle cx="430.50" cy="279.86" r="1.3" fill="#fff" stroke="#000" stroke-width="0.6"/>
<circle cx="430.50" cy="287.71" r="1.3" fill="#fff" stroke="#000" stroke-width="0.6"/>
<circle cx="430.50" cy="315.23" r="1.3" fill="#fff" stroke="#000" stroke-width="0.6"/>
<line x1="445.50" y1="318.50" x2="445.50" y2="321.10" stroke="#000" stroke-width="1"/>
<circle cx="438.30" cy="318.30" r="1.5" fill="#fff" stroke="#000" stroke-width="0.8"/>
<rect x="441.80" y="281.17" width="3.00" height="37.33" fill="#d3e2fa" stroke="#000" stroke-width="0.7"/>
<circle cx="443.30" cy="281.17" r="1.3" fill="#fff" stroke="#000" stroke-width="0.6"/>
<rect x="446.60" y="291.64" width="3.00" height="26.86" fill="#1b62e6" stroke="#000" stroke-width="0.7"/>
<circle cx="448.10" cy="291.64" r="1.3" fill="#fff" stroke="#000" stroke-width="0.6"/>
<rect x="451.30" y="282.48" width="3.00" height="36.02" fill="#081530" stroke="#000" stroke-width="0.7"/>
<circle cx="452.80" cy="282.48" r="1.3" fill="#fff" stroke="#000" stroke-width="0.6"/>
<line x1="467.50" y1="318.50" x2="467.50" y2="321.10" stroke="#000" stroke-width="1"/>
<circle cx="461.40" cy="318.30" r="1.5" fill="#fff" stroke="#000" stroke-width="0.8"/>
<circle cx="466.00" cy="318.30" r="1.5" fill="#fff" stroke="#000" stroke-width="0.8"/>
<circle cx="470.50" cy="318.30" r="1.5" fill="#fff" stroke="#000" stroke-width="0.8"/>
<circle cx="475.00" cy="318.30" r="1.5" fill="#fff" stroke="#000" stroke-width="0.8"/>
<line x1="412.50" y1="330.70" x2="412.50" y2="396.70" stroke="#000" stroke-width="1"/>
<line x1="409.20" y1="396.50" x2="412.00" y2="396.50" stroke="#000" stroke-width="1"/>
<line x1="409.20" y1="383.50" x2="412.00" y2="383.50" stroke="#000" stroke-width="1"/>
<line x1="409.20" y1="370.50" x2="412.00" y2="370.50" stroke="#000" stroke-width="1"/>
<line x1="409.20" y1="357.50" x2="412.00" y2="357.50" stroke="#000" stroke-width="1"/>
<line x1="409.20" y1="344.50" x2="412.00" y2="344.50" stroke="#000" stroke-width="1"/>
<line x1="409.20" y1="331.50" x2="412.00" y2="331.50" stroke="#000" stroke-width="1"/>
<line x1="412.00" y1="396.50" x2="479.50" y2="396.50" stroke="#000" stroke-width="1"/>
<line x1="422.50" y1="396.70" x2="422.50" y2="399.30" stroke="#000" stroke-width="1"/>
<circle cx="415.80" cy="396.50" r="1.5" fill="#fff" stroke="#000" stroke-width="0.8"/>
<rect x="419.30" y="370.50" width="3.00" height="26.20" fill="#d3e2fa" stroke="#000" stroke-width="0.7"/>
<rect x="419.65" y="370.85" width="2.30" height="16.24" fill="#6a7892"/>
<line x1="420.50" y1="345.61" x2="420.50" y2="370.50" stroke="#000" stroke-width="0.6"/>
<circle cx="420.80" cy="345.61" r="1.3" fill="#fff" stroke="#000" stroke-width="0.6"/>
<circle cx="420.80" cy="368.53" r="1.3" fill="#fff" stroke="#000" stroke-width="0.6"/>
<circle cx="420.80" cy="371.15" r="1.3" fill="#fff" stroke="#000" stroke-width="0.6"/>
<circle cx="420.80" cy="393.43" r="1.3" fill="#fff" stroke="#000" stroke-width="0.6"/>
<circle cx="420.80" cy="396.70" r="1.3" fill="#fff" stroke="#000" stroke-width="0.6"/>
<rect x="424.00" y="368.53" width="3.00" height="28.17" fill="#1b62e6" stroke="#000" stroke-width="0.7"/>
<rect x="424.35" y="368.88" width="2.30" height="17.46" fill="#1c3c8c"/>
<line x1="425.50" y1="339.06" x2="425.50" y2="368.53" stroke="#000" stroke-width="0.6"/>
<circle cx="425.50" cy="339.06" r="1.3" fill="#fff" stroke="#000" stroke-width="0.6"/>
<circle cx="425.50" cy="344.30" r="1.3" fill="#fff" stroke="#000" stroke-width="0.6"/>
<circle cx="425.50" cy="364.61" r="1.3" fill="#fff" stroke="#000" stroke-width="0.6"/>
<circle cx="425.50" cy="376.39" r="1.3" fill="#fff" stroke="#000" stroke-width="0.6"/>
<circle cx="425.50" cy="388.84" r="1.3" fill="#fff" stroke="#000" stroke-width="0.6"/>
<rect x="429.00" y="369.19" width="3.00" height="27.51" fill="#081530" stroke="#000" stroke-width="0.7"/>
<line x1="430.50" y1="341.02" x2="430.50" y2="369.19" stroke="#000" stroke-width="0.6"/>
<circle cx="430.50" cy="341.02" r="1.3" fill="#fff" stroke="#000" stroke-width="0.6"/>
<circle cx="430.50" cy="346.26" r="1.3" fill="#fff" stroke="#000" stroke-width="0.6"/>
<circle cx="430.50" cy="392.77" r="1.3" fill="#fff" stroke="#000" stroke-width="0.6"/>
<circle cx="430.50" cy="394.74" r="1.3" fill="#fff" stroke="#000" stroke-width="0.6"/>
<line x1="445.50" y1="396.70" x2="445.50" y2="399.30" stroke="#000" stroke-width="1"/>
<circle cx="438.30" cy="396.50" r="1.5" fill="#fff" stroke="#000" stroke-width="0.8"/>
<rect x="441.80" y="359.37" width="3.00" height="37.33" fill="#d3e2fa" stroke="#000" stroke-width="0.7"/>
<circle cx="443.30" cy="359.37" r="1.3" fill="#fff" stroke="#000" stroke-width="0.6"/>
<rect x="446.60" y="335.78" width="3.00" height="60.92" fill="#1b62e6" stroke="#000" stroke-width="0.7"/>
<circle cx="448.10" cy="335.78" r="1.3" fill="#fff" stroke="#000" stroke-width="0.6"/>
<rect x="451.30" y="349.54" width="3.00" height="47.16" fill="#081530" stroke="#000" stroke-width="0.7"/>
<circle cx="452.80" cy="349.54" r="1.3" fill="#fff" stroke="#000" stroke-width="0.6"/>
<line x1="467.50" y1="396.70" x2="467.50" y2="399.30" stroke="#000" stroke-width="1"/>
<circle cx="460.90" cy="396.50" r="1.5" fill="#fff" stroke="#000" stroke-width="0.8"/>
<rect x="464.50" y="347.57" width="3.00" height="49.12" fill="#d3e2fa" stroke="#000" stroke-width="0.7"/>
<circle cx="466.00" cy="347.57" r="1.3" fill="#fff" stroke="#000" stroke-width="0.6"/>
<rect x="469.50" y="372.46" width="3.00" height="24.24" fill="#1b62e6" stroke="#000" stroke-width="0.7"/>
<circle cx="471.00" cy="372.46" r="1.3" fill="#fff" stroke="#000" stroke-width="0.6"/>
<rect x="474.30" y="350.19" width="3.00" height="46.50" fill="#081530" stroke="#000" stroke-width="0.7"/>
<circle cx="475.80" cy="350.19" r="1.3" fill="#fff" stroke="#000" stroke-width="0.6"/>
<line x1="485.50" y1="252.50" x2="485.50" y2="318.50" stroke="#000" stroke-width="1"/>
<line x1="482.50" y1="318.50" x2="485.30" y2="318.50" stroke="#000" stroke-width="1"/>
<line x1="482.50" y1="305.50" x2="485.30" y2="305.50" stroke="#000" stroke-width="1"/>
<line x1="482.50" y1="292.50" x2="485.30" y2="292.50" stroke="#000" stroke-width="1"/>
<line x1="482.50" y1="279.50" x2="485.30" y2="279.50" stroke="#000" stroke-width="1"/>
<line x1="482.50" y1="266.50" x2="485.30" y2="266.50" stroke="#000" stroke-width="1"/>
<line x1="482.50" y1="253.50" x2="485.30" y2="253.50" stroke="#000" stroke-width="1"/>
<line x1="485.30" y1="318.50" x2="552.80" y2="318.50" stroke="#000" stroke-width="1"/>
<line x1="496.50" y1="318.50" x2="496.50" y2="321.10" stroke="#000" stroke-width="1"/>
<circle cx="488.60" cy="318.30" r="1.5" fill="#fff" stroke="#000" stroke-width="0.8"/>
<rect x="492.20" y="306.71" width="3.00" height="11.79" fill="#d3e2fa" stroke="#000" stroke-width="0.7"/>
<rect x="492.55" y="307.06" width="2.30" height="7.31" fill="#6a7892"/>
<line x1="493.50" y1="300.81" x2="493.50" y2="306.71" stroke="#000" stroke-width="0.6"/>
<circle cx="493.70" cy="300.81" r="1.3" fill="#fff" stroke="#000" stroke-width="0.6"/>
<circle cx="493.70" cy="303.44" r="1.3" fill="#fff" stroke="#000" stroke-width="0.6"/>
<circle cx="493.70" cy="307.37" r="1.3" fill="#fff" stroke="#000" stroke-width="0.6"/>
<circle cx="493.70" cy="315.23" r="1.3" fill="#fff" stroke="#000" stroke-width="0.6"/>
<rect x="496.80" y="313.26" width="3.00" height="5.24" fill="#1b62e6" stroke="#000" stroke-width="0.7"/>
<rect x="497.15" y="313.61" width="2.30" height="3.25" fill="#1c3c8c"/>
<line x1="498.50" y1="311.95" x2="498.50" y2="313.26" stroke="#000" stroke-width="0.6"/>
<circle cx="498.30" cy="311.95" r="1.3" fill="#fff" stroke="#000" stroke-width="0.6"/>
<circle cx="498.30" cy="314.57" r="1.3" fill="#fff" stroke="#000" stroke-width="0.6"/>
<circle cx="498.30" cy="317.19" r="1.3" fill="#fff" stroke="#000" stroke-width="0.6"/>
<rect x="501.80" y="306.06" width="3.00" height="12.44" fill="#081530" stroke="#000" stroke-width="0.7"/>
<line x1="503.50" y1="302.78" x2="503.50" y2="306.06" stroke="#000" stroke-width="0.6"/>
<circle cx="503.30" cy="302.78" r="1.3" fill="#fff" stroke="#000" stroke-width="0.6"/>
<circle cx="503.30" cy="309.99" r="1.3" fill="#fff" stroke="#000" stroke-width="0.6"/>
<circle cx="503.30" cy="315.23" r="1.3" fill="#fff" stroke="#000" stroke-width="0.6"/>
<line x1="518.50" y1="318.50" x2="518.50" y2="321.10" stroke="#000" stroke-width="1"/>
<circle cx="511.20" cy="318.30" r="1.5" fill="#fff" stroke="#000" stroke-width="0.8"/>
<rect x="514.60" y="312.61" width="3.00" height="5.89" fill="#d3e2fa" stroke="#000" stroke-width="0.7"/>
<circle cx="516.10" cy="312.61" r="1.3" fill="#fff" stroke="#000" stroke-width="0.6"/>
<circle cx="520.90" cy="316.34" r="1.5" fill="#fff" stroke="#000" stroke-width="0.8"/>
<circle cx="525.80" cy="316.34" r="1.5" fill="#fff" stroke="#000" stroke-width="0.8"/>
<line x1="540.50" y1="318.50" x2="540.50" y2="321.10" stroke="#000" stroke-width="1"/>
<circle cx="533.70" cy="318.30" r="1.5" fill="#fff" stroke="#000" stroke-width="0.8"/>
<circle cx="538.90" cy="318.30" r="1.5" fill="#fff" stroke="#000" stroke-width="0.8"/>
<circle cx="543.50" cy="318.30" r="1.5" fill="#fff" stroke="#000" stroke-width="0.8"/>
<circle cx="548.10" cy="318.30" r="1.5" fill="#fff" stroke="#000" stroke-width="0.8"/>
<line x1="485.50" y1="330.70" x2="485.50" y2="396.70" stroke="#000" stroke-width="1"/>
<line x1="482.50" y1="396.50" x2="485.30" y2="396.50" stroke="#000" stroke-width="1"/>
<line x1="482.50" y1="383.50" x2="485.30" y2="383.50" stroke="#000" stroke-width="1"/>
<line x1="482.50" y1="370.50" x2="485.30" y2="370.50" stroke="#000" stroke-width="1"/>
<line x1="482.50" y1="357.50" x2="485.30" y2="357.50" stroke="#000" stroke-width="1"/>
<line x1="482.50" y1="344.50" x2="485.30" y2="344.50" stroke="#000" stroke-width="1"/>
<line x1="482.50" y1="331.50" x2="485.30" y2="331.50" stroke="#000" stroke-width="1"/>
<line x1="485.30" y1="396.50" x2="552.80" y2="396.50" stroke="#000" stroke-width="1"/>
<line x1="496.50" y1="396.70" x2="496.50" y2="399.30" stroke="#000" stroke-width="1"/>
<circle cx="488.20" cy="396.50" r="1.5" fill="#fff" stroke="#000" stroke-width="0.8"/>
<rect x="492.20" y="367.22" width="3.00" height="29.48" fill="#d3e2fa" stroke="#000" stroke-width="0.7"/>
<rect x="492.55" y="367.57" width="2.30" height="18.27" fill="#6a7892"/>
<line x1="493.50" y1="348.88" x2="493.50" y2="367.22" stroke="#000" stroke-width="0.6"/>
<circle cx="493.70" cy="348.88" r="1.3" fill="#fff" stroke="#000" stroke-width="0.6"/>
<circle cx="493.70" cy="365.26" r="1.3" fill="#fff" stroke="#000" stroke-width="0.6"/>
<circle cx="493.70" cy="384.25" r="1.3" fill="#fff" stroke="#000" stroke-width="0.6"/>
<circle cx="493.70" cy="387.53" r="1.3" fill="#fff" stroke="#000" stroke-width="0.6"/>
<rect x="496.80" y="377.05" width="3.00" height="19.65" fill="#1b62e6" stroke="#000" stroke-width="0.7"/>
<rect x="497.15" y="377.40" width="2.30" height="12.18" fill="#1c3c8c"/>
<line x1="498.50" y1="369.19" x2="498.50" y2="377.05" stroke="#000" stroke-width="0.6"/>
<circle cx="498.30" cy="369.19" r="1.3" fill="#fff" stroke="#000" stroke-width="0.6"/>
<circle cx="498.30" cy="371.81" r="1.3" fill="#fff" stroke="#000" stroke-width="0.6"/>
<circle cx="498.30" cy="377.05" r="1.3" fill="#fff" stroke="#000" stroke-width="0.6"/>
<circle cx="498.30" cy="386.88" r="1.3" fill="#fff" stroke="#000" stroke-width="0.6"/>
<circle cx="498.30" cy="390.15" r="1.3" fill="#fff" stroke="#000" stroke-width="0.6"/>
<rect x="501.70" y="355.44" width="3.00" height="41.26" fill="#081530" stroke="#000" stroke-width="0.7"/>
<line x1="503.50" y1="342.99" x2="503.50" y2="355.44" stroke="#000" stroke-width="0.6"/>
<circle cx="503.20" cy="342.99" r="1.3" fill="#fff" stroke="#000" stroke-width="0.6"/>
<circle cx="503.20" cy="348.23" r="1.3" fill="#fff" stroke="#000" stroke-width="0.6"/>
<circle cx="503.20" cy="359.37" r="1.3" fill="#fff" stroke="#000" stroke-width="0.6"/>
<circle cx="503.20" cy="366.57" r="1.3" fill="#fff" stroke="#000" stroke-width="0.6"/>
<line x1="518.50" y1="396.70" x2="518.50" y2="399.30" stroke="#000" stroke-width="1"/>
<circle cx="511.00" cy="394.54" r="1.5" fill="#fff" stroke="#000" stroke-width="0.8"/>
<rect x="514.40" y="386.88" width="3.00" height="9.82" fill="#d3e2fa" stroke="#000" stroke-width="0.7"/>
<circle cx="515.90" cy="386.88" r="1.3" fill="#fff" stroke="#000" stroke-width="0.6"/>
<rect x="519.40" y="383.60" width="3.00" height="13.10" fill="#1b62e6" stroke="#000" stroke-width="0.7"/>
<circle cx="520.90" cy="383.60" r="1.3" fill="#fff" stroke="#000" stroke-width="0.6"/>
<rect x="524.20" y="369.19" width="3.00" height="27.51" fill="#081530" stroke="#000" stroke-width="0.7"/>
<circle cx="525.70" cy="369.19" r="1.3" fill="#fff" stroke="#000" stroke-width="0.6"/>
<line x1="540.50" y1="396.70" x2="540.50" y2="399.30" stroke="#000" stroke-width="1"/>
<rect x="528.90" y="363.29" width="3.00" height="33.41" fill="#000000" stroke="#000" stroke-width="0.7"/>
<rect x="532.10" y="389.50" width="3.00" height="7.20" fill="#ffffff" stroke="#000" stroke-width="0.7"/>
<circle cx="533.60" cy="389.50" r="1.3" fill="#fff" stroke="#000" stroke-width="0.6"/>
<rect x="537.10" y="382.29" width="3.00" height="14.41" fill="#d3e2fa" stroke="#000" stroke-width="0.7"/>
<circle cx="538.60" cy="382.29" r="1.3" fill="#fff" stroke="#000" stroke-width="0.6"/>
<rect x="542.00" y="382.29" width="3.00" height="14.41" fill="#1b62e6" stroke="#000" stroke-width="0.7"/>
<circle cx="543.50" cy="382.29" r="1.3" fill="#fff" stroke="#000" stroke-width="0.6"/>
<rect x="546.90" y="360.68" width="3.00" height="36.02" fill="#081530" stroke="#000" stroke-width="0.7"/>
<circle cx="548.40" cy="360.68" r="1.3" fill="#fff" stroke="#000" stroke-width="0.6"/>
<text transform="translate(230.60,282.80) rotate(-90) scale(0.9434,1)" text-anchor="middle">TNF<tspan dy="-3.5" style="font-size:6.5px">+</tspan></text>
<text transform="translate(242.20,280.30) rotate(-90) scale(0.9434,1)" text-anchor="middle" style="font-size:10.60px;">(% among subset)</text>
<text transform="translate(230.60,366.50) rotate(-90) scale(0.9434,1)" text-anchor="middle">IL-1β<tspan dy="-3.5" style="font-size:6.5px">+</tspan></text>
<text transform="translate(242.20,367.40) rotate(-90) scale(0.9434,1)" text-anchor="middle" style="font-size:10.60px;">(% among subset)</text>
<text transform="translate(282.40,405.50) rotate(-45) scale(0.9434,1)" text-anchor="end" style="font-size:10.71px;">Controls</text>
<text transform="translate(304.40,405.50) rotate(-45) scale(0.9434,1)" text-anchor="end" style="font-size:10.71px;">P1 brother</text>
<text transform="translate(327.40,405.50) rotate(-45) scale(0.9434,1)" text-anchor="end" style="font-size:10.71px;">P1</text>
<text transform="translate(356.70,405.50) rotate(-45) scale(0.9434,1)" text-anchor="end" style="font-size:10.71px;">Controls</text>
<text transform="translate(378.70,405.50) rotate(-45) scale(0.9434,1)" text-anchor="end" style="font-size:10.71px;">P1 brother</text>
<text transform="translate(401.70,405.50) rotate(-45) scale(0.9434,1)" text-anchor="end" style="font-size:10.71px;">P1</text>
<text transform="translate(428.00,405.50) rotate(-45) scale(0.9434,1)" text-anchor="end" style="font-size:10.71px;">Controls</text>
<text transform="translate(450.00,405.50) rotate(-45) scale(0.9434,1)" text-anchor="end" style="font-size:10.71px;">P1 brother</text>
<text transform="translate(473.00,405.50) rotate(-45) scale(0.9434,1)" text-anchor="end" style="font-size:10.71px;">P1</text>
<text transform="translate(501.30,405.50) rotate(-45) scale(0.9434,1)" text-anchor="end" style="font-size:10.71px;">Controls</text>
<text transform="translate(523.30,405.50) rotate(-45) scale(0.9434,1)" text-anchor="end" style="font-size:10.71px;">P1 brother</text>
<text transform="translate(546.30,405.50) rotate(-45) scale(0.9434,1)" text-anchor="end" style="font-size:10.71px;">P1</text>
<text transform="translate(572.60,225.50)" style="font-size:17.00px;font-weight:bold;stroke-width:0.35px;stroke:#000;fill:#000;">g</text>
<circle cx="604.90" cy="226.10" r="1.7" fill="#1c7a2c" stroke="#000" stroke-width="0.6"/>
<text transform="translate(609.60,229.30) scale(0.9434,1)" style="font-size:10.92px;">Controls</text>
<path d="M604.90,235.20 L606.60,237.00 L604.90,238.80 L603.20,237.00 Z" fill="#d87a26" stroke="#333" stroke-width="0.4"/>
<text transform="translate(609.60,240.60) scale(0.9434,1)" style="font-size:10.92px;">P1 brother</text>
<path d="M665.60,235.30 L667.30,238.30 L663.90,238.30 Z" fill="#b01818" stroke="#333" stroke-width="0.4"/>
<text transform="translate(670.00,240.60) scale(0.9434,1)" style="font-size:10.92px;">P1</text>
<line x1="606.50" y1="253.20" x2="606.50" y2="318.50" stroke="#000" stroke-width="1"/>
<line x1="603.70" y1="253.50" x2="606.50" y2="253.50" stroke="#000" stroke-width="1"/>
<text transform="translate(598.50,257.20) scale(0.9434,1)" text-anchor="end">10</text>
<text transform="translate(598.90,252.90) scale(0.9434,1)" style="font-size:6.89px;">4</text>
<line x1="603.70" y1="279.50" x2="606.50" y2="279.50" stroke="#000" stroke-width="1"/>
<text transform="translate(598.50,282.70) scale(0.9434,1)" text-anchor="end">10</text>
<text transform="translate(598.90,278.40) scale(0.9434,1)" style="font-size:6.89px;">2</text>
<line x1="603.70" y1="304.50" x2="606.50" y2="304.50" stroke="#000" stroke-width="1"/>
<text transform="translate(598.50,308.40) scale(0.9434,1)" text-anchor="end">10</text>
<text transform="translate(598.90,304.10) scale(0.9434,1)" style="font-size:6.89px;">0</text>
<line x1="606.50" y1="318.50" x2="672.00" y2="318.50" stroke="#000" stroke-width="1"/>
<line x1="613.50" y1="318.50" x2="613.50" y2="321.30" stroke="#000" stroke-width="1"/>
<line x1="630.50" y1="318.50" x2="630.50" y2="321.30" stroke="#000" stroke-width="1"/>
<line x1="647.50" y1="318.50" x2="647.50" y2="321.30" stroke="#000" stroke-width="1"/>
<line x1="664.50" y1="318.50" x2="664.50" y2="321.30" stroke="#000" stroke-width="1"/>
<text transform="translate(583.60,281.00) rotate(-90) scale(0.9434,1)" text-anchor="middle">TNF (pg ml<tspan dy="-3.5" style="font-size:6.5px">−1</tspan><tspan dy="3.5">)</tspan></text>
<line x1="606.50" y1="326.60" x2="606.50" y2="392.90" stroke="#000" stroke-width="1"/>
<line x1="603.70" y1="327.50" x2="606.50" y2="327.50" stroke="#000" stroke-width="1"/>
<text transform="translate(598.50,330.60) scale(0.9434,1)" text-anchor="end">10</text>
<text transform="translate(598.90,326.30) scale(0.9434,1)" style="font-size:6.89px;">4</text>
<line x1="603.70" y1="360.50" x2="606.50" y2="360.50" stroke="#000" stroke-width="1"/>
<text transform="translate(598.50,363.60) scale(0.9434,1)" text-anchor="end">10</text>
<text transform="translate(598.90,359.30) scale(0.9434,1)" style="font-size:6.89px;">2</text>
<line x1="603.70" y1="393.50" x2="606.50" y2="393.50" stroke="#000" stroke-width="1"/>
<text transform="translate(598.50,396.60) scale(0.9434,1)" text-anchor="end">10</text>
<text transform="translate(598.90,392.30) scale(0.9434,1)" style="font-size:6.89px;">0</text>
<line x1="606.50" y1="392.50" x2="673.00" y2="392.50" stroke="#000" stroke-width="1"/>
<line x1="614.50" y1="392.90" x2="614.50" y2="395.70" stroke="#000" stroke-width="1"/>
<line x1="631.50" y1="392.90" x2="631.50" y2="395.70" stroke="#000" stroke-width="1"/>
<line x1="647.50" y1="392.90" x2="647.50" y2="395.70" stroke="#000" stroke-width="1"/>
<line x1="664.50" y1="392.90" x2="664.50" y2="395.70" stroke="#000" stroke-width="1"/>
<text transform="translate(583.60,356.60) rotate(-90) scale(0.9434,1)" text-anchor="middle">IL-1β (pg ml<tspan dy="-3.5" style="font-size:6.5px">−1</tspan><tspan dy="3.5">)</tspan></text>
<line x1="608.50" y1="291.00" x2="608.50" y2="314.00" stroke="#000" stroke-width="0.6"/>
<line x1="607.10" y1="297.50" x2="610.10" y2="297.50" stroke="#000" stroke-width="0.6"/>
<line x1="642.50" y1="266.00" x2="642.50" y2="285.00" stroke="#000" stroke-width="0.6"/>
<line x1="641.10" y1="272.50" x2="644.10" y2="272.50" stroke="#000" stroke-width="0.6"/>
<line x1="626.50" y1="262.00" x2="626.50" y2="270.00" stroke="#000" stroke-width="0.6"/>
<line x1="624.50" y1="266.50" x2="627.50" y2="266.50" stroke="#000" stroke-width="0.6"/>
<line x1="659.50" y1="260.00" x2="659.50" y2="268.00" stroke="#000" stroke-width="0.6"/>
<line x1="658.00" y1="264.50" x2="661.00" y2="264.50" stroke="#000" stroke-width="0.6"/>
<circle cx="608.60" cy="288.70" r="1.7" fill="#1c7a2c" stroke="#000" stroke-width="0.6"/>
<circle cx="608.60" cy="307.10" r="1.7" fill="#1c7a2c" stroke="#000" stroke-width="0.6"/>
<circle cx="608.60" cy="312.10" r="1.7" fill="#1c7a2c" stroke="#000" stroke-width="0.6"/>
<circle cx="608.60" cy="314.60" r="1.7" fill="#1c7a2c" stroke="#000" stroke-width="0.6"/>
<path d="M613.50,308.70 L615.20,310.50 L613.50,312.30 L611.80,310.50 Z" fill="#d87a26" stroke="#333" stroke-width="0.4"/>
<path d="M618.30,312.70 L620.00,315.70 L616.60,315.70 Z" fill="#b01818" stroke="#333" stroke-width="0.4"/>
<circle cx="626.00" cy="261.60" r="1.7" fill="#1c7a2c" stroke="#000" stroke-width="0.6"/>
<circle cx="626.00" cy="263.40" r="1.7" fill="#1c7a2c" stroke="#000" stroke-width="0.6"/>
<circle cx="626.00" cy="266.20" r="1.7" fill="#1c7a2c" stroke="#000" stroke-width="0.6"/>
<circle cx="626.00" cy="277.30" r="1.7" fill="#1c7a2c" stroke="#000" stroke-width="0.6"/>
<circle cx="626.00" cy="296.20" r="1.7" fill="#1c7a2c" stroke="#000" stroke-width="0.6"/>
<path d="M630.60,273.30 L632.30,275.10 L630.60,276.90 L628.90,275.10 Z" fill="#d87a26" stroke="#333" stroke-width="0.4"/>
<path d="M635.10,311.80 L636.80,314.80 L633.40,314.80 Z" fill="#b01818" stroke="#333" stroke-width="0.4"/>
<circle cx="642.60" cy="266.20" r="1.7" fill="#1c7a2c" stroke="#000" stroke-width="0.6"/>
<circle cx="642.60" cy="269.40" r="1.7" fill="#1c7a2c" stroke="#000" stroke-width="0.6"/>
<circle cx="642.60" cy="280.30" r="1.7" fill="#1c7a2c" stroke="#000" stroke-width="0.6"/>
<circle cx="642.60" cy="289.90" r="1.7" fill="#1c7a2c" stroke="#000" stroke-width="0.6"/>
<circle cx="642.60" cy="292.80" r="1.7" fill="#1c7a2c" stroke="#000" stroke-width="0.6"/>
<path d="M647.20,276.20 L648.90,278.00 L647.20,279.80 L645.50,278.00 Z" fill="#d87a26" stroke="#333" stroke-width="0.4"/>
<path d="M652.20,315.30 L653.90,318.30 L650.50,318.30 Z" fill="#b01818" stroke="#333" stroke-width="0.4"/>
<circle cx="659.50" cy="260.30" r="1.7" fill="#1c7a2c" stroke="#000" stroke-width="0.6"/>
<circle cx="659.50" cy="261.80" r="1.7" fill="#1c7a2c" stroke="#000" stroke-width="0.6"/>
<circle cx="659.50" cy="264.80" r="1.7" fill="#1c7a2c" stroke="#000" stroke-width="0.6"/>
<circle cx="659.50" cy="280.80" r="1.7" fill="#1c7a2c" stroke="#000" stroke-width="0.6"/>
<path d="M664.30,273.30 L666.00,275.10 L664.30,276.90 L662.60,275.10 Z" fill="#d87a26" stroke="#333" stroke-width="0.4"/>
<path d="M669.30,315.30 L671.00,318.30 L667.60,318.30 Z" fill="#b01818" stroke="#333" stroke-width="0.4"/>
<line x1="608.50" y1="379.00" x2="608.50" y2="392.00" stroke="#000" stroke-width="0.6"/>
<line x1="607.20" y1="382.50" x2="610.20" y2="382.50" stroke="#000" stroke-width="0.6"/>
<line x1="642.50" y1="345.90" x2="642.50" y2="354.50" stroke="#000" stroke-width="0.6"/>
<line x1="641.10" y1="349.50" x2="644.10" y2="349.50" stroke="#000" stroke-width="0.6"/>
<line x1="626.50" y1="332.00" x2="626.50" y2="340.00" stroke="#000" stroke-width="0.6"/>
<line x1="624.50" y1="336.50" x2="627.50" y2="336.50" stroke="#000" stroke-width="0.6"/>
<line x1="659.50" y1="330.00" x2="659.50" y2="338.00" stroke="#000" stroke-width="0.6"/>
<line x1="658.00" y1="334.50" x2="661.00" y2="334.50" stroke="#000" stroke-width="0.6"/>
<circle cx="608.70" cy="373.80" r="1.7" fill="#1c7a2c" stroke="#000" stroke-width="0.6"/>
<circle cx="608.70" cy="392.70" r="1.7" fill="#1c7a2c" stroke="#000" stroke-width="0.6"/>
<path d="M613.50,391.10 L615.20,392.90 L613.50,394.70 L611.80,392.90 Z" fill="#d87a26" stroke="#333" stroke-width="0.4"/>
<path d="M618.50,391.20 L620.20,394.20 L616.80,394.20 Z" fill="#b01818" stroke="#333" stroke-width="0.4"/>
<circle cx="626.00" cy="332.10" r="1.7" fill="#1c7a2c" stroke="#000" stroke-width="0.6"/>
<circle cx="626.00" cy="333.90" r="1.7" fill="#1c7a2c" stroke="#000" stroke-width="0.6"/>
<circle cx="626.00" cy="337.80" r="1.7" fill="#1c7a2c" stroke="#000" stroke-width="0.6"/>
<circle cx="626.00" cy="344.20" r="1.7" fill="#1c7a2c" stroke="#000" stroke-width="0.6"/>
<circle cx="626.00" cy="359.00" r="1.7" fill="#1c7a2c" stroke="#000" stroke-width="0.6"/>
<path d="M630.60,350.10 L632.30,351.90 L630.60,353.70 L628.90,351.90 Z" fill="#d87a26" stroke="#333" stroke-width="0.4"/>
<path d="M635.10,349.10 L636.80,352.10 L633.40,352.10 Z" fill="#b01818" stroke="#333" stroke-width="0.4"/>
<circle cx="642.60" cy="343.00" r="1.7" fill="#1c7a2c" stroke="#000" stroke-width="0.6"/>
<circle cx="642.60" cy="357.90" r="1.7" fill="#1c7a2c" stroke="#000" stroke-width="0.6"/>
<circle cx="642.60" cy="362.90" r="1.7" fill="#1c7a2c" stroke="#000" stroke-width="0.6"/>
<circle cx="642.60" cy="368.10" r="1.7" fill="#1c7a2c" stroke="#000" stroke-width="0.6"/>
<path d="M647.20,359.20 L648.90,361.00 L647.20,362.80 L645.50,361.00 Z" fill="#d87a26" stroke="#333" stroke-width="0.4"/>
<path d="M652.20,362.30 L653.90,365.30 L650.50,365.30 Z" fill="#b01818" stroke="#333" stroke-width="0.4"/>
<circle cx="659.50" cy="329.20" r="1.7" fill="#1c7a2c" stroke="#000" stroke-width="0.6"/>
<circle cx="659.50" cy="331.40" r="1.7" fill="#1c7a2c" stroke="#000" stroke-width="0.6"/>
<circle cx="659.50" cy="336.20" r="1.7" fill="#1c7a2c" stroke="#000" stroke-width="0.6"/>
<circle cx="659.50" cy="344.20" r="1.7" fill="#1c7a2c" stroke="#000" stroke-width="0.6"/>
<circle cx="659.50" cy="354.40" r="1.7" fill="#1c7a2c" stroke="#000" stroke-width="0.6"/>
<path d="M664.30,346.90 L666.00,348.70 L664.30,350.50 L662.60,348.70 Z" fill="#d87a26" stroke="#333" stroke-width="0.4"/>
<path d="M669.30,347.50 L671.00,350.50 L667.60,350.50 Z" fill="#b01818" stroke="#333" stroke-width="0.4"/>
<text transform="translate(619.20,402.30) rotate(-45) scale(0.9434,1)" text-anchor="end">NS</text>
<text transform="translate(636.60,402.30) rotate(-45) scale(0.9434,1)" text-anchor="end">LPS</text>
<text transform="translate(654.60,402.30) rotate(-45) scale(0.9434,1)" text-anchor="end">BCG</text>
<text transform="translate(669.50,403.00) rotate(-45) scale(0.9434,1)" text-anchor="end" style="font-style:italic;">Lm</text>
</svg>
</body></html>
